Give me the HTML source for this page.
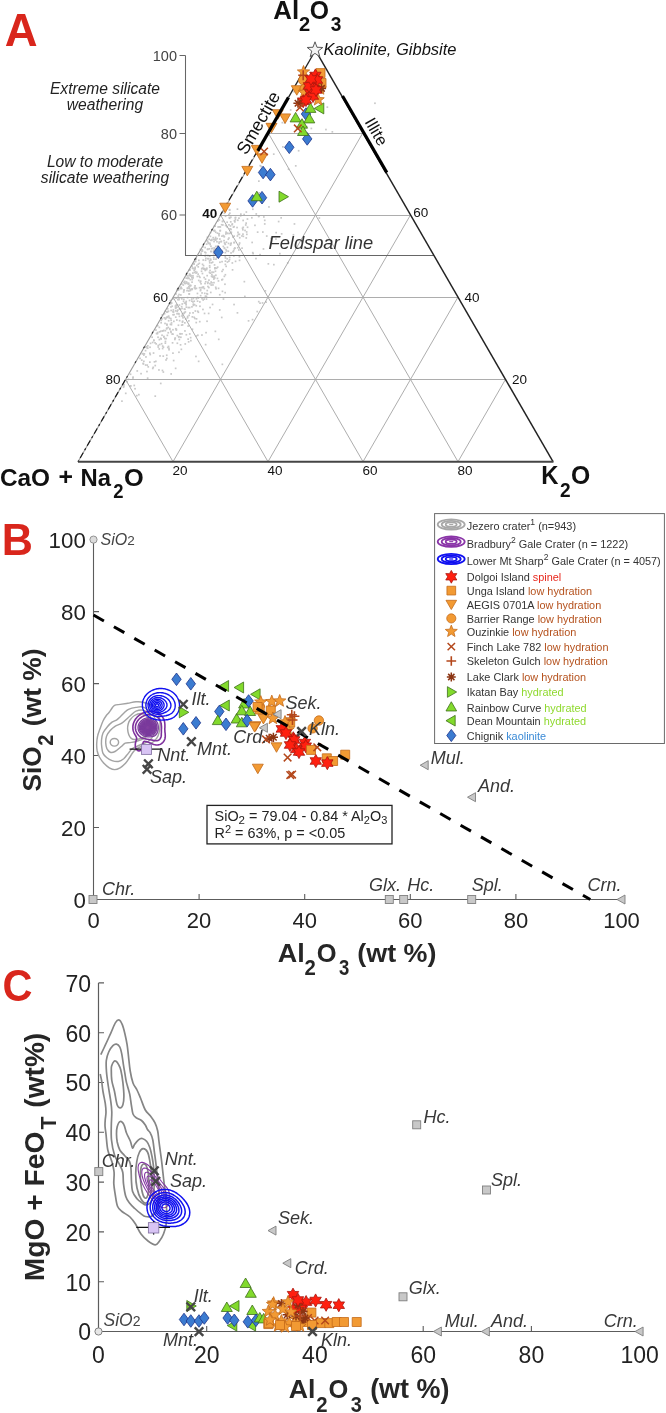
<!DOCTYPE html>
<html><head><meta charset="utf-8"><style>
html,body{margin:0;padding:0;background:#fff;}
svg{display:block;will-change:transform;}
text{font-family:"Liberation Sans", sans-serif;}
</style></head><body>
<svg width="666" height="1413" viewBox="0 0 666 1413">
<rect width="666" height="1413" fill="#fff"/>
<text x="4.76" y="45.80" font-size="45.5" fill="#d9261c" font-weight="bold" font-style="normal" >A</text>
<text x="273.26" y="18.60" font-size="25.5" fill="#111" font-weight="bold" font-style="normal" textLength="25.86" lengthAdjust="spacingAndGlyphs" >Al</text>
<text x="298.90" y="30.60" font-size="20" fill="#111" font-weight="bold" font-style="normal" textLength="11.18" lengthAdjust="spacingAndGlyphs" >2</text>
<text x="309.78" y="18.60" font-size="25.5" fill="#111" font-weight="bold" font-style="normal" textLength="19.25" lengthAdjust="spacingAndGlyphs" >O</text>
<text x="330.65" y="30.80" font-size="20" fill="#111" font-weight="bold" font-style="normal" textLength="10.62" lengthAdjust="spacingAndGlyphs" >3</text>
<g fill="#c9c9c9"><rect x="244.0" y="295.6" width="1.7" height="1.7"/><rect x="158.5" y="326.5" width="1.7" height="1.7"/><rect x="187.8" y="282.4" width="1.7" height="1.7"/><rect x="122.7" y="386.4" width="1.7" height="1.7"/><rect x="202.9" y="268.1" width="1.7" height="1.7"/><rect x="184.4" y="343.1" width="1.7" height="1.7"/><rect x="195.1" y="355.6" width="1.7" height="1.7"/><rect x="201.1" y="250.4" width="1.7" height="1.7"/><rect x="170.7" y="302.3" width="1.7" height="1.7"/><rect x="161.8" y="347.7" width="1.7" height="1.7"/><rect x="168.9" y="327.7" width="1.7" height="1.7"/><rect x="221.7" y="278.5" width="1.7" height="1.7"/><rect x="176.9" y="309.3" width="1.7" height="1.7"/><rect x="194.6" y="260.5" width="1.7" height="1.7"/><rect x="176.5" y="334.7" width="1.7" height="1.7"/><rect x="126.3" y="380.9" width="1.7" height="1.7"/><rect x="208.0" y="286.7" width="1.7" height="1.7"/><rect x="217.3" y="226.1" width="1.7" height="1.7"/><rect x="188.7" y="274.6" width="1.7" height="1.7"/><rect x="203.3" y="276.7" width="1.7" height="1.7"/><rect x="222.5" y="245.6" width="1.7" height="1.7"/><rect x="213.8" y="277.1" width="1.7" height="1.7"/><rect x="234.0" y="247.3" width="1.7" height="1.7"/><rect x="203.7" y="312.6" width="1.7" height="1.7"/><rect x="163.0" y="335.6" width="1.7" height="1.7"/><rect x="194.1" y="317.6" width="1.7" height="1.7"/><rect x="213.1" y="281.8" width="1.7" height="1.7"/><rect x="189.5" y="288.7" width="1.7" height="1.7"/><rect x="226.2" y="226.0" width="1.7" height="1.7"/><rect x="204.4" y="269.6" width="1.7" height="1.7"/><rect x="217.2" y="245.1" width="1.7" height="1.7"/><rect x="245.3" y="222.3" width="1.7" height="1.7"/><rect x="186.8" y="287.6" width="1.7" height="1.7"/><rect x="193.2" y="262.7" width="1.7" height="1.7"/><rect x="183.2" y="312.5" width="1.7" height="1.7"/><rect x="261.7" y="302.1" width="1.7" height="1.7"/><rect x="130.0" y="385.1" width="1.7" height="1.7"/><rect x="186.8" y="315.6" width="1.7" height="1.7"/><rect x="183.2" y="289.0" width="1.7" height="1.7"/><rect x="221.5" y="363.5" width="1.7" height="1.7"/><rect x="211.0" y="229.0" width="1.7" height="1.7"/><rect x="163.7" y="312.9" width="1.7" height="1.7"/><rect x="199.8" y="280.3" width="1.7" height="1.7"/><rect x="154.4" y="395.3" width="1.7" height="1.7"/><rect x="177.7" y="289.2" width="1.7" height="1.7"/><rect x="189.8" y="336.8" width="1.7" height="1.7"/><rect x="145.1" y="356.1" width="1.7" height="1.7"/><rect x="163.0" y="336.2" width="1.7" height="1.7"/><rect x="218.8" y="226.0" width="1.7" height="1.7"/><rect x="259.2" y="253.8" width="1.7" height="1.7"/><rect x="169.6" y="323.5" width="1.7" height="1.7"/><rect x="151.3" y="336.4" width="1.7" height="1.7"/><rect x="204.3" y="255.0" width="1.7" height="1.7"/><rect x="222.6" y="298.2" width="1.7" height="1.7"/><rect x="211.0" y="238.7" width="1.7" height="1.7"/><rect x="225.0" y="233.1" width="1.7" height="1.7"/><rect x="178.6" y="308.1" width="1.7" height="1.7"/><rect x="165.8" y="328.0" width="1.7" height="1.7"/><rect x="178.5" y="338.7" width="1.7" height="1.7"/><rect x="244.2" y="229.6" width="1.7" height="1.7"/><rect x="251.9" y="251.8" width="1.7" height="1.7"/><rect x="246.6" y="218.2" width="1.7" height="1.7"/><rect x="178.7" y="297.1" width="1.7" height="1.7"/><rect x="167.8" y="319.9" width="1.7" height="1.7"/><rect x="169.6" y="299.8" width="1.7" height="1.7"/><rect x="180.2" y="287.0" width="1.7" height="1.7"/><rect x="188.8" y="284.7" width="1.7" height="1.7"/><rect x="234.6" y="218.9" width="1.7" height="1.7"/><rect x="176.5" y="342.4" width="1.7" height="1.7"/><rect x="213.8" y="238.6" width="1.7" height="1.7"/><rect x="140.9" y="359.3" width="1.7" height="1.7"/><rect x="198.0" y="259.5" width="1.7" height="1.7"/><rect x="207.1" y="254.7" width="1.7" height="1.7"/><rect x="218.4" y="241.2" width="1.7" height="1.7"/><rect x="224.5" y="251.8" width="1.7" height="1.7"/><rect x="221.7" y="220.6" width="1.7" height="1.7"/><rect x="170.6" y="323.8" width="1.7" height="1.7"/><rect x="245.4" y="237.1" width="1.7" height="1.7"/><rect x="185.5" y="333.9" width="1.7" height="1.7"/><rect x="231.3" y="223.8" width="1.7" height="1.7"/><rect x="183.5" y="308.2" width="1.7" height="1.7"/><rect x="208.1" y="279.3" width="1.7" height="1.7"/><rect x="204.3" y="246.7" width="1.7" height="1.7"/><rect x="180.9" y="287.7" width="1.7" height="1.7"/><rect x="223.7" y="247.6" width="1.7" height="1.7"/><rect x="178.1" y="313.1" width="1.7" height="1.7"/><rect x="192.6" y="297.7" width="1.7" height="1.7"/><rect x="184.0" y="280.6" width="1.7" height="1.7"/><rect x="224.2" y="209.2" width="1.7" height="1.7"/><rect x="144.5" y="346.3" width="1.7" height="1.7"/><rect x="180.2" y="286.3" width="1.7" height="1.7"/><rect x="218.4" y="232.8" width="1.7" height="1.7"/><rect x="208.6" y="271.5" width="1.7" height="1.7"/><rect x="155.3" y="343.0" width="1.7" height="1.7"/><rect x="166.5" y="334.5" width="1.7" height="1.7"/><rect x="206.4" y="289.7" width="1.7" height="1.7"/><rect x="174.3" y="337.5" width="1.7" height="1.7"/><rect x="175.5" y="329.2" width="1.7" height="1.7"/><rect x="195.2" y="258.1" width="1.7" height="1.7"/><rect x="205.2" y="331.8" width="1.7" height="1.7"/><rect x="218.2" y="242.4" width="1.7" height="1.7"/><rect x="121.1" y="400.3" width="1.7" height="1.7"/><rect x="197.8" y="360.5" width="1.7" height="1.7"/><rect x="318.5" y="217.2" width="1.7" height="1.7"/><rect x="214.4" y="267.0" width="1.7" height="1.7"/><rect x="214.6" y="239.1" width="1.7" height="1.7"/><rect x="213.7" y="229.5" width="1.7" height="1.7"/><rect x="181.4" y="303.1" width="1.7" height="1.7"/><rect x="195.7" y="318.0" width="1.7" height="1.7"/><rect x="233.4" y="248.1" width="1.7" height="1.7"/><rect x="233.2" y="225.8" width="1.7" height="1.7"/><rect x="263.0" y="216.1" width="1.7" height="1.7"/><rect x="227.0" y="232.6" width="1.7" height="1.7"/><rect x="183.7" y="311.7" width="1.7" height="1.7"/><rect x="144.7" y="349.8" width="1.7" height="1.7"/><rect x="241.1" y="235.1" width="1.7" height="1.7"/><rect x="158.5" y="338.8" width="1.7" height="1.7"/><rect x="160.4" y="319.5" width="1.7" height="1.7"/><rect x="233.2" y="303.7" width="1.7" height="1.7"/><rect x="193.3" y="269.5" width="1.7" height="1.7"/><rect x="214.9" y="231.4" width="1.7" height="1.7"/><rect x="191.4" y="278.7" width="1.7" height="1.7"/><rect x="204.8" y="343.8" width="1.7" height="1.7"/><rect x="189.8" y="274.7" width="1.7" height="1.7"/><rect x="233.2" y="241.8" width="1.7" height="1.7"/><rect x="212.8" y="252.9" width="1.7" height="1.7"/><rect x="240.0" y="213.3" width="1.7" height="1.7"/><rect x="209.2" y="269.6" width="1.7" height="1.7"/><rect x="157.4" y="346.2" width="1.7" height="1.7"/><rect x="217.9" y="338.5" width="1.7" height="1.7"/><rect x="232.8" y="249.9" width="1.7" height="1.7"/><rect x="160.8" y="342.9" width="1.7" height="1.7"/><rect x="188.5" y="293.1" width="1.7" height="1.7"/><rect x="201.4" y="267.4" width="1.7" height="1.7"/><rect x="194.3" y="266.5" width="1.7" height="1.7"/><rect x="196.0" y="264.6" width="1.7" height="1.7"/><rect x="221.2" y="260.8" width="1.7" height="1.7"/><rect x="183.0" y="298.5" width="1.7" height="1.7"/><rect x="229.2" y="228.0" width="1.7" height="1.7"/><rect x="143.0" y="354.2" width="1.7" height="1.7"/><rect x="197.4" y="266.0" width="1.7" height="1.7"/><rect x="227.4" y="238.4" width="1.7" height="1.7"/><rect x="227.5" y="250.4" width="1.7" height="1.7"/><rect x="192.6" y="303.3" width="1.7" height="1.7"/><rect x="149.0" y="352.4" width="1.7" height="1.7"/><rect x="179.7" y="344.0" width="1.7" height="1.7"/><rect x="191.1" y="288.7" width="1.7" height="1.7"/><rect x="222.0" y="224.1" width="1.7" height="1.7"/><rect x="247.7" y="320.0" width="1.7" height="1.7"/><rect x="181.6" y="321.4" width="1.7" height="1.7"/><rect x="164.6" y="340.6" width="1.7" height="1.7"/><rect x="159.9" y="382.6" width="1.7" height="1.7"/><rect x="214.6" y="270.4" width="1.7" height="1.7"/><rect x="214.5" y="253.6" width="1.7" height="1.7"/><rect x="230.1" y="228.6" width="1.7" height="1.7"/><rect x="259.2" y="302.3" width="1.7" height="1.7"/><rect x="201.2" y="292.1" width="1.7" height="1.7"/><rect x="187.2" y="277.2" width="1.7" height="1.7"/><rect x="229.9" y="243.0" width="1.7" height="1.7"/><rect x="199.0" y="301.1" width="1.7" height="1.7"/><rect x="210.7" y="247.8" width="1.7" height="1.7"/><rect x="208.7" y="260.1" width="1.7" height="1.7"/><rect x="238.1" y="217.3" width="1.7" height="1.7"/><rect x="218.9" y="309.1" width="1.7" height="1.7"/><rect x="216.3" y="249.5" width="1.7" height="1.7"/><rect x="239.8" y="214.9" width="1.7" height="1.7"/><rect x="143.5" y="353.0" width="1.7" height="1.7"/><rect x="191.6" y="328.4" width="1.7" height="1.7"/><rect x="196.7" y="300.3" width="1.7" height="1.7"/><rect x="209.4" y="272.3" width="1.7" height="1.7"/><rect x="166.1" y="311.3" width="1.7" height="1.7"/><rect x="237.0" y="219.4" width="1.7" height="1.7"/><rect x="184.1" y="308.4" width="1.7" height="1.7"/><rect x="168.2" y="348.9" width="1.7" height="1.7"/><rect x="223.7" y="242.1" width="1.7" height="1.7"/><rect x="212.3" y="236.8" width="1.7" height="1.7"/><rect x="214.1" y="249.1" width="1.7" height="1.7"/><rect x="187.3" y="338.3" width="1.7" height="1.7"/><rect x="197.4" y="263.4" width="1.7" height="1.7"/><rect x="189.0" y="312.2" width="1.7" height="1.7"/><rect x="202.1" y="308.6" width="1.7" height="1.7"/><rect x="211.7" y="275.3" width="1.7" height="1.7"/><rect x="215.0" y="274.4" width="1.7" height="1.7"/><rect x="208.3" y="238.4" width="1.7" height="1.7"/><rect x="164.0" y="337.7" width="1.7" height="1.7"/><rect x="193.4" y="300.4" width="1.7" height="1.7"/><rect x="229.9" y="221.0" width="1.7" height="1.7"/><rect x="174.9" y="316.3" width="1.7" height="1.7"/><rect x="218.5" y="219.1" width="1.7" height="1.7"/><rect x="178.2" y="293.7" width="1.7" height="1.7"/><rect x="216.8" y="266.3" width="1.7" height="1.7"/><rect x="216.4" y="237.8" width="1.7" height="1.7"/><rect x="212.9" y="249.3" width="1.7" height="1.7"/><rect x="205.6" y="295.5" width="1.7" height="1.7"/><rect x="127.6" y="378.5" width="1.7" height="1.7"/><rect x="164.2" y="322.6" width="1.7" height="1.7"/><rect x="181.1" y="283.2" width="1.7" height="1.7"/><rect x="213.5" y="277.2" width="1.7" height="1.7"/><rect x="195.4" y="321.7" width="1.7" height="1.7"/><rect x="182.8" y="291.2" width="1.7" height="1.7"/><rect x="264.5" y="290.0" width="1.7" height="1.7"/><rect x="210.4" y="284.2" width="1.7" height="1.7"/><rect x="238.8" y="242.2" width="1.7" height="1.7"/><rect x="238.6" y="233.5" width="1.7" height="1.7"/><rect x="201.6" y="286.5" width="1.7" height="1.7"/><rect x="176.0" y="289.5" width="1.7" height="1.7"/><rect x="204.6" y="278.3" width="1.7" height="1.7"/><rect x="206.6" y="236.5" width="1.7" height="1.7"/><rect x="220.1" y="240.8" width="1.7" height="1.7"/><rect x="155.1" y="329.2" width="1.7" height="1.7"/><rect x="233.5" y="241.6" width="1.7" height="1.7"/><rect x="159.9" y="330.4" width="1.7" height="1.7"/><rect x="162.4" y="355.3" width="1.7" height="1.7"/><rect x="185.4" y="300.6" width="1.7" height="1.7"/><rect x="211.7" y="303.6" width="1.7" height="1.7"/><rect x="152.4" y="366.5" width="1.7" height="1.7"/><rect x="166.3" y="311.0" width="1.7" height="1.7"/><rect x="225.2" y="248.9" width="1.7" height="1.7"/><rect x="245.5" y="211.2" width="1.7" height="1.7"/><rect x="180.5" y="348.5" width="1.7" height="1.7"/><rect x="174.8" y="367.5" width="1.7" height="1.7"/><rect x="174.8" y="296.9" width="1.7" height="1.7"/><rect x="184.0" y="322.0" width="1.7" height="1.7"/><rect x="213.0" y="258.3" width="1.7" height="1.7"/><rect x="208.9" y="261.9" width="1.7" height="1.7"/><rect x="202.7" y="264.8" width="1.7" height="1.7"/><rect x="223.6" y="212.4" width="1.7" height="1.7"/><rect x="212.9" y="250.7" width="1.7" height="1.7"/><rect x="186.2" y="289.8" width="1.7" height="1.7"/><rect x="214.3" y="225.3" width="1.7" height="1.7"/><rect x="221.1" y="235.3" width="1.7" height="1.7"/><rect x="223.0" y="210.4" width="1.7" height="1.7"/><rect x="207.1" y="281.4" width="1.7" height="1.7"/><rect x="159.8" y="337.5" width="1.7" height="1.7"/><rect x="166.0" y="357.6" width="1.7" height="1.7"/><rect x="225.6" y="241.3" width="1.7" height="1.7"/><rect x="191.2" y="281.3" width="1.7" height="1.7"/><rect x="213.2" y="240.7" width="1.7" height="1.7"/><rect x="167.9" y="315.4" width="1.7" height="1.7"/><rect x="202.3" y="299.1" width="1.7" height="1.7"/><rect x="179.6" y="308.2" width="1.7" height="1.7"/><rect x="174.6" y="305.2" width="1.7" height="1.7"/><rect x="146.6" y="347.4" width="1.7" height="1.7"/><rect x="219.5" y="226.1" width="1.7" height="1.7"/><rect x="167.6" y="310.4" width="1.7" height="1.7"/><rect x="143.0" y="360.5" width="1.7" height="1.7"/><rect x="196.0" y="271.5" width="1.7" height="1.7"/><rect x="215.1" y="258.3" width="1.7" height="1.7"/><rect x="225.3" y="265.5" width="1.7" height="1.7"/><rect x="236.9" y="246.9" width="1.7" height="1.7"/><rect x="214.5" y="330.5" width="1.7" height="1.7"/><rect x="206.0" y="267.4" width="1.7" height="1.7"/><rect x="151.9" y="367.6" width="1.7" height="1.7"/><rect x="153.6" y="361.0" width="1.7" height="1.7"/><rect x="230.3" y="232.2" width="1.7" height="1.7"/><rect x="186.6" y="287.3" width="1.7" height="1.7"/><rect x="213.5" y="275.3" width="1.7" height="1.7"/><rect x="206.7" y="240.5" width="1.7" height="1.7"/><rect x="214.9" y="239.0" width="1.7" height="1.7"/><rect x="214.9" y="245.6" width="1.7" height="1.7"/><rect x="183.7" y="302.2" width="1.7" height="1.7"/><rect x="138.0" y="393.8" width="1.7" height="1.7"/><rect x="222.4" y="234.7" width="1.7" height="1.7"/><rect x="171.7" y="342.0" width="1.7" height="1.7"/><rect x="257.9" y="300.8" width="1.7" height="1.7"/><rect x="180.0" y="294.1" width="1.7" height="1.7"/><rect x="209.6" y="231.7" width="1.7" height="1.7"/><rect x="217.6" y="280.1" width="1.7" height="1.7"/><rect x="207.8" y="242.6" width="1.7" height="1.7"/><rect x="181.8" y="320.4" width="1.7" height="1.7"/><rect x="165.2" y="337.8" width="1.7" height="1.7"/><rect x="217.7" y="287.5" width="1.7" height="1.7"/><rect x="197.9" y="279.6" width="1.7" height="1.7"/><rect x="209.2" y="306.7" width="1.7" height="1.7"/><rect x="246.7" y="226.4" width="1.7" height="1.7"/><rect x="193.7" y="286.9" width="1.7" height="1.7"/><rect x="202.6" y="286.1" width="1.7" height="1.7"/><rect x="187.3" y="282.8" width="1.7" height="1.7"/><rect x="224.5" y="263.6" width="1.7" height="1.7"/><rect x="228.5" y="216.7" width="1.7" height="1.7"/><rect x="234.7" y="216.6" width="1.7" height="1.7"/><rect x="254.1" y="224.5" width="1.7" height="1.7"/><rect x="209.3" y="243.7" width="1.7" height="1.7"/><rect x="203.5" y="268.3" width="1.7" height="1.7"/><rect x="167.7" y="345.6" width="1.7" height="1.7"/><rect x="194.2" y="267.9" width="1.7" height="1.7"/><rect x="183.2" y="281.5" width="1.7" height="1.7"/><rect x="190.0" y="339.8" width="1.7" height="1.7"/><rect x="174.4" y="337.4" width="1.7" height="1.7"/><rect x="178.2" y="298.8" width="1.7" height="1.7"/><rect x="198.7" y="286.9" width="1.7" height="1.7"/><rect x="242.4" y="226.5" width="1.7" height="1.7"/><rect x="200.2" y="286.9" width="1.7" height="1.7"/><rect x="217.0" y="220.2" width="1.7" height="1.7"/><rect x="188.2" y="277.5" width="1.7" height="1.7"/><rect x="226.6" y="246.5" width="1.7" height="1.7"/><rect x="184.1" y="282.6" width="1.7" height="1.7"/><rect x="210.7" y="275.4" width="1.7" height="1.7"/><rect x="225.2" y="231.3" width="1.7" height="1.7"/><rect x="209.1" y="282.8" width="1.7" height="1.7"/><rect x="256.4" y="310.7" width="1.7" height="1.7"/><rect x="173.0" y="320.5" width="1.7" height="1.7"/><rect x="123.0" y="385.2" width="1.7" height="1.7"/><rect x="234.0" y="221.0" width="1.7" height="1.7"/><rect x="234.5" y="217.1" width="1.7" height="1.7"/><rect x="243.3" y="213.7" width="1.7" height="1.7"/><rect x="216.6" y="232.3" width="1.7" height="1.7"/><rect x="218.5" y="253.3" width="1.7" height="1.7"/><rect x="226.3" y="257.9" width="1.7" height="1.7"/><rect x="170.3" y="373.1" width="1.7" height="1.7"/><rect x="223.5" y="235.7" width="1.7" height="1.7"/><rect x="209.0" y="242.4" width="1.7" height="1.7"/><rect x="205.6" y="298.2" width="1.7" height="1.7"/><rect x="166.9" y="346.6" width="1.7" height="1.7"/><rect x="149.0" y="361.3" width="1.7" height="1.7"/><rect x="194.4" y="287.9" width="1.7" height="1.7"/><rect x="201.4" y="249.0" width="1.7" height="1.7"/><rect x="190.6" y="275.0" width="1.7" height="1.7"/><rect x="206.7" y="248.5" width="1.7" height="1.7"/><rect x="262.0" y="231.2" width="1.7" height="1.7"/><rect x="233.3" y="235.3" width="1.7" height="1.7"/><rect x="161.1" y="318.1" width="1.7" height="1.7"/><rect x="174.0" y="338.6" width="1.7" height="1.7"/><rect x="203.9" y="292.5" width="1.7" height="1.7"/><rect x="191.6" y="267.2" width="1.7" height="1.7"/><rect x="181.6" y="313.1" width="1.7" height="1.7"/><rect x="199.8" y="294.8" width="1.7" height="1.7"/><rect x="233.9" y="247.3" width="1.7" height="1.7"/><rect x="198.9" y="320.8" width="1.7" height="1.7"/><rect x="192.2" y="277.1" width="1.7" height="1.7"/><rect x="265.9" y="235.2" width="1.7" height="1.7"/><rect x="175.5" y="328.5" width="1.7" height="1.7"/><rect x="191.0" y="300.3" width="1.7" height="1.7"/><rect x="158.7" y="331.0" width="1.7" height="1.7"/><rect x="209.7" y="258.3" width="1.7" height="1.7"/><rect x="198.5" y="262.5" width="1.7" height="1.7"/><rect x="179.3" y="333.0" width="1.7" height="1.7"/><rect x="213.0" y="276.3" width="1.7" height="1.7"/><rect x="292.6" y="233.9" width="1.7" height="1.7"/><rect x="152.7" y="352.2" width="1.7" height="1.7"/><rect x="191.5" y="316.0" width="1.7" height="1.7"/><rect x="228.7" y="208.8" width="1.7" height="1.7"/><rect x="202.2" y="286.8" width="1.7" height="1.7"/><rect x="161.5" y="314.1" width="1.7" height="1.7"/><rect x="174.9" y="327.9" width="1.7" height="1.7"/><rect x="197.3" y="273.3" width="1.7" height="1.7"/><rect x="185.5" y="306.3" width="1.7" height="1.7"/><rect x="171.3" y="305.4" width="1.7" height="1.7"/><rect x="215.8" y="267.4" width="1.7" height="1.7"/><rect x="156.8" y="324.9" width="1.7" height="1.7"/><rect x="165.9" y="354.4" width="1.7" height="1.7"/><rect x="169.8" y="302.9" width="1.7" height="1.7"/><rect x="222.2" y="268.8" width="1.7" height="1.7"/><rect x="233.0" y="255.0" width="1.7" height="1.7"/><rect x="200.2" y="252.4" width="1.7" height="1.7"/><rect x="208.8" y="264.9" width="1.7" height="1.7"/><rect x="166.0" y="324.0" width="1.7" height="1.7"/><rect x="158.4" y="348.1" width="1.7" height="1.7"/><rect x="168.1" y="347.5" width="1.7" height="1.7"/><rect x="184.9" y="318.2" width="1.7" height="1.7"/><rect x="132.1" y="377.2" width="1.7" height="1.7"/><rect x="172.0" y="298.1" width="1.7" height="1.7"/><rect x="220.5" y="240.6" width="1.7" height="1.7"/><rect x="206.6" y="293.2" width="1.7" height="1.7"/><rect x="242.0" y="228.9" width="1.7" height="1.7"/><rect x="170.1" y="306.1" width="1.7" height="1.7"/><rect x="166.5" y="316.4" width="1.7" height="1.7"/><rect x="174.9" y="307.5" width="1.7" height="1.7"/><rect x="162.5" y="371.2" width="1.7" height="1.7"/><rect x="194.5" y="310.2" width="1.7" height="1.7"/><rect x="195.6" y="287.5" width="1.7" height="1.7"/><rect x="207.2" y="241.6" width="1.7" height="1.7"/><rect x="188.9" y="333.1" width="1.7" height="1.7"/><rect x="196.6" y="292.6" width="1.7" height="1.7"/><rect x="221.1" y="249.8" width="1.7" height="1.7"/><rect x="219.0" y="238.2" width="1.7" height="1.7"/><rect x="210.1" y="245.4" width="1.7" height="1.7"/><rect x="188.7" y="273.2" width="1.7" height="1.7"/><rect x="177.0" y="298.8" width="1.7" height="1.7"/><rect x="214.9" y="237.9" width="1.7" height="1.7"/><rect x="133.4" y="384.6" width="1.7" height="1.7"/><rect x="146.1" y="370.7" width="1.7" height="1.7"/><rect x="214.7" y="236.6" width="1.7" height="1.7"/><rect x="193.2" y="267.7" width="1.7" height="1.7"/><rect x="238.0" y="249.1" width="1.7" height="1.7"/><rect x="205.0" y="257.5" width="1.7" height="1.7"/><rect x="286.9" y="262.1" width="1.7" height="1.7"/><rect x="155.0" y="360.5" width="1.7" height="1.7"/><rect x="210.3" y="281.2" width="1.7" height="1.7"/><rect x="225.8" y="250.1" width="1.7" height="1.7"/><rect x="204.7" y="259.4" width="1.7" height="1.7"/><rect x="195.1" y="257.8" width="1.7" height="1.7"/><rect x="193.3" y="316.5" width="1.7" height="1.7"/><rect x="246.0" y="233.5" width="1.7" height="1.7"/><rect x="172.8" y="359.7" width="1.7" height="1.7"/><rect x="189.5" y="289.7" width="1.7" height="1.7"/><rect x="192.1" y="301.1" width="1.7" height="1.7"/><rect x="194.2" y="285.0" width="1.7" height="1.7"/><rect x="218.4" y="252.6" width="1.7" height="1.7"/><rect x="161.6" y="330.0" width="1.7" height="1.7"/><rect x="178.6" y="304.2" width="1.7" height="1.7"/><rect x="149.4" y="353.7" width="1.7" height="1.7"/><rect x="236.6" y="235.1" width="1.7" height="1.7"/><rect x="194.0" y="268.0" width="1.7" height="1.7"/><rect x="251.3" y="241.6" width="1.7" height="1.7"/><rect x="237.5" y="233.4" width="1.7" height="1.7"/><rect x="166.2" y="323.9" width="1.7" height="1.7"/><rect x="207.8" y="312.6" width="1.7" height="1.7"/><rect x="134.2" y="387.9" width="1.7" height="1.7"/><rect x="208.4" y="248.0" width="1.7" height="1.7"/><rect x="236.2" y="226.7" width="1.7" height="1.7"/><rect x="219.1" y="261.4" width="1.7" height="1.7"/><rect x="157.4" y="344.6" width="1.7" height="1.7"/><rect x="232.6" y="226.3" width="1.7" height="1.7"/><rect x="228.8" y="209.3" width="1.7" height="1.7"/><rect x="229.7" y="244.2" width="1.7" height="1.7"/><rect x="172.1" y="352.3" width="1.7" height="1.7"/><rect x="142.2" y="352.8" width="1.7" height="1.7"/><rect x="218.0" y="233.2" width="1.7" height="1.7"/><rect x="176.0" y="319.2" width="1.7" height="1.7"/><rect x="189.2" y="273.8" width="1.7" height="1.7"/><rect x="224.8" y="224.7" width="1.7" height="1.7"/><rect x="158.9" y="343.7" width="1.7" height="1.7"/><rect x="189.1" y="269.1" width="1.7" height="1.7"/><rect x="229.6" y="225.1" width="1.7" height="1.7"/><rect x="186.7" y="317.0" width="1.7" height="1.7"/><rect x="263.9" y="219.5" width="1.7" height="1.7"/><rect x="204.7" y="254.5" width="1.7" height="1.7"/><rect x="232.2" y="250.9" width="1.7" height="1.7"/><rect x="220.8" y="223.9" width="1.7" height="1.7"/><rect x="151.8" y="341.6" width="1.7" height="1.7"/><rect x="209.9" y="239.4" width="1.7" height="1.7"/><rect x="204.9" y="251.9" width="1.7" height="1.7"/><rect x="160.3" y="321.9" width="1.7" height="1.7"/><rect x="208.9" y="266.5" width="1.7" height="1.7"/><rect x="189.7" y="274.6" width="1.7" height="1.7"/><rect x="165.2" y="359.1" width="1.7" height="1.7"/><rect x="216.6" y="277.6" width="1.7" height="1.7"/><rect x="243.5" y="280.8" width="1.7" height="1.7"/><rect x="199.6" y="289.8" width="1.7" height="1.7"/><rect x="163.5" y="317.0" width="1.7" height="1.7"/><rect x="154.4" y="364.7" width="1.7" height="1.7"/><rect x="222.4" y="209.7" width="1.7" height="1.7"/><rect x="206.2" y="320.4" width="1.7" height="1.7"/><rect x="170.5" y="301.9" width="1.7" height="1.7"/><rect x="225.9" y="232.2" width="1.7" height="1.7"/><rect x="231.5" y="223.1" width="1.7" height="1.7"/><rect x="170.0" y="330.5" width="1.7" height="1.7"/><rect x="176.1" y="304.1" width="1.7" height="1.7"/><rect x="159.2" y="355.1" width="1.7" height="1.7"/><rect x="187.9" y="285.9" width="1.7" height="1.7"/><rect x="226.3" y="221.4" width="1.7" height="1.7"/><rect x="209.9" y="291.6" width="1.7" height="1.7"/><rect x="174.9" y="310.0" width="1.7" height="1.7"/><rect x="237.1" y="231.5" width="1.7" height="1.7"/><rect x="230.3" y="242.3" width="1.7" height="1.7"/><rect x="220.9" y="316.6" width="1.7" height="1.7"/><rect x="197.5" y="311.4" width="1.7" height="1.7"/><rect x="213.8" y="230.1" width="1.7" height="1.7"/><rect x="181.3" y="314.9" width="1.7" height="1.7"/><rect x="178.1" y="351.4" width="1.7" height="1.7"/><rect x="230.0" y="216.4" width="1.7" height="1.7"/><rect x="206.1" y="239.6" width="1.7" height="1.7"/><rect x="211.6" y="276.2" width="1.7" height="1.7"/><rect x="230.2" y="252.1" width="1.7" height="1.7"/><rect x="217.2" y="250.6" width="1.7" height="1.7"/><rect x="195.2" y="272.2" width="1.7" height="1.7"/><rect x="214.2" y="248.2" width="1.7" height="1.7"/><rect x="221.4" y="250.9" width="1.7" height="1.7"/><rect x="238.6" y="255.9" width="1.7" height="1.7"/><rect x="191.1" y="306.0" width="1.7" height="1.7"/><rect x="156.8" y="331.7" width="1.7" height="1.7"/><rect x="210.8" y="239.5" width="1.7" height="1.7"/><rect x="238.4" y="243.7" width="1.7" height="1.7"/><rect x="157.2" y="336.4" width="1.7" height="1.7"/><rect x="170.0" y="317.7" width="1.7" height="1.7"/><rect x="194.6" y="260.6" width="1.7" height="1.7"/><rect x="192.5" y="304.5" width="1.7" height="1.7"/><rect x="245.8" y="231.1" width="1.7" height="1.7"/><rect x="200.7" y="270.4" width="1.7" height="1.7"/><rect x="218.9" y="293.9" width="1.7" height="1.7"/><rect x="199.8" y="254.2" width="1.7" height="1.7"/><rect x="212.9" y="229.8" width="1.7" height="1.7"/><rect x="136.0" y="394.8" width="1.7" height="1.7"/><rect x="144.8" y="364.2" width="1.7" height="1.7"/><rect x="206.9" y="248.4" width="1.7" height="1.7"/><rect x="164.5" y="342.3" width="1.7" height="1.7"/><rect x="164.4" y="310.4" width="1.7" height="1.7"/><rect x="170.7" y="322.1" width="1.7" height="1.7"/><rect x="224.6" y="257.1" width="1.7" height="1.7"/><rect x="257.8" y="215.7" width="1.7" height="1.7"/><rect x="182.1" y="316.9" width="1.7" height="1.7"/><rect x="197.0" y="334.4" width="1.7" height="1.7"/><rect x="175.1" y="293.1" width="1.7" height="1.7"/><rect x="210.7" y="262.0" width="1.7" height="1.7"/><rect x="224.5" y="273.9" width="1.7" height="1.7"/><rect x="129.7" y="373.4" width="1.7" height="1.7"/><rect x="154.2" y="342.0" width="1.7" height="1.7"/><rect x="160.3" y="338.1" width="1.7" height="1.7"/><rect x="179.4" y="332.9" width="1.7" height="1.7"/><rect x="209.9" y="259.2" width="1.7" height="1.7"/><rect x="223.5" y="275.5" width="1.7" height="1.7"/><rect x="228.6" y="232.6" width="1.7" height="1.7"/><rect x="199.8" y="288.9" width="1.7" height="1.7"/><rect x="185.0" y="302.6" width="1.7" height="1.7"/><rect x="209.6" y="235.5" width="1.7" height="1.7"/><rect x="145.6" y="346.0" width="1.7" height="1.7"/><rect x="303.6" y="247.7" width="1.7" height="1.7"/><rect x="236.6" y="208.3" width="1.7" height="1.7"/><rect x="153.0" y="339.8" width="1.7" height="1.7"/><rect x="228.8" y="256.5" width="1.7" height="1.7"/><rect x="228.8" y="217.4" width="1.7" height="1.7"/><rect x="170.3" y="309.6" width="1.7" height="1.7"/><rect x="241.2" y="247.3" width="1.7" height="1.7"/><rect x="140.2" y="372.8" width="1.7" height="1.7"/><rect x="146.7" y="347.3" width="1.7" height="1.7"/><rect x="193.2" y="263.3" width="1.7" height="1.7"/><rect x="171.3" y="333.2" width="1.7" height="1.7"/><rect x="187.3" y="325.2" width="1.7" height="1.7"/><rect x="149.2" y="346.4" width="1.7" height="1.7"/><rect x="244.9" y="224.1" width="1.7" height="1.7"/><rect x="191.0" y="276.9" width="1.7" height="1.7"/><rect x="199.5" y="281.2" width="1.7" height="1.7"/><rect x="202.4" y="259.2" width="1.7" height="1.7"/><rect x="165.9" y="327.3" width="1.7" height="1.7"/><rect x="176.0" y="306.3" width="1.7" height="1.7"/><rect x="188.7" y="269.0" width="1.7" height="1.7"/><rect x="203.8" y="267.8" width="1.7" height="1.7"/><rect x="251.7" y="318.8" width="1.7" height="1.7"/><rect x="228.1" y="224.0" width="1.7" height="1.7"/><rect x="161.8" y="345.2" width="1.7" height="1.7"/><rect x="224.0" y="242.8" width="1.7" height="1.7"/><rect x="172.7" y="311.2" width="1.7" height="1.7"/><rect x="210.0" y="250.6" width="1.7" height="1.7"/><rect x="172.2" y="313.9" width="1.7" height="1.7"/><rect x="214.1" y="267.6" width="1.7" height="1.7"/><rect x="123.2" y="383.7" width="1.7" height="1.7"/><rect x="167.3" y="326.6" width="1.7" height="1.7"/><rect x="183.5" y="281.8" width="1.7" height="1.7"/><rect x="198.3" y="275.4" width="1.7" height="1.7"/><rect x="149.7" y="342.5" width="1.7" height="1.7"/><rect x="189.4" y="284.8" width="1.7" height="1.7"/><rect x="224.6" y="260.3" width="1.7" height="1.7"/><rect x="223.3" y="235.7" width="1.7" height="1.7"/><rect x="201.6" y="250.2" width="1.7" height="1.7"/><rect x="166.8" y="308.0" width="1.7" height="1.7"/><rect x="206.0" y="292.8" width="1.7" height="1.7"/><rect x="213.4" y="225.4" width="1.7" height="1.7"/><rect x="211.2" y="271.3" width="1.7" height="1.7"/><rect x="196.5" y="275.6" width="1.7" height="1.7"/><rect x="136.4" y="370.1" width="1.7" height="1.7"/><rect x="188.0" y="290.1" width="1.7" height="1.7"/><rect x="146.9" y="345.0" width="1.7" height="1.7"/><rect x="224.3" y="291.8" width="1.7" height="1.7"/><rect x="176.7" y="288.8" width="1.7" height="1.7"/><rect x="215.9" y="256.7" width="1.7" height="1.7"/><rect x="206.3" y="274.8" width="1.7" height="1.7"/><rect x="177.6" y="324.4" width="1.7" height="1.7"/><rect x="181.1" y="333.0" width="1.7" height="1.7"/><rect x="231.5" y="262.1" width="1.7" height="1.7"/><rect x="192.1" y="274.9" width="1.7" height="1.7"/><rect x="189.5" y="278.8" width="1.7" height="1.7"/><rect x="185.9" y="274.6" width="1.7" height="1.7"/><rect x="146.8" y="377.3" width="1.7" height="1.7"/><rect x="200.2" y="282.9" width="1.7" height="1.7"/><rect x="228.1" y="237.2" width="1.7" height="1.7"/><rect x="177.6" y="297.1" width="1.7" height="1.7"/><rect x="177.6" y="312.8" width="1.7" height="1.7"/><rect x="256.8" y="231.3" width="1.7" height="1.7"/><rect x="204.1" y="251.4" width="1.7" height="1.7"/><rect x="186.1" y="282.2" width="1.7" height="1.7"/><rect x="193.9" y="286.5" width="1.7" height="1.7"/><rect x="223.2" y="239.8" width="1.7" height="1.7"/><rect x="224.1" y="283.4" width="1.7" height="1.7"/><rect x="242.3" y="219.6" width="1.7" height="1.7"/><rect x="177.9" y="336.1" width="1.7" height="1.7"/><rect x="204.5" y="268.6" width="1.7" height="1.7"/><rect x="204.9" y="280.9" width="1.7" height="1.7"/><rect x="195.3" y="257.4" width="1.7" height="1.7"/><rect x="214.3" y="267.1" width="1.7" height="1.7"/><rect x="187.1" y="275.1" width="1.7" height="1.7"/><rect x="170.2" y="331.5" width="1.7" height="1.7"/><rect x="229.7" y="228.4" width="1.7" height="1.7"/><rect x="205.8" y="243.3" width="1.7" height="1.7"/><rect x="251.0" y="216.9" width="1.7" height="1.7"/><rect x="218.2" y="234.8" width="1.7" height="1.7"/><rect x="221.6" y="290.5" width="1.7" height="1.7"/><rect x="170.3" y="319.5" width="1.7" height="1.7"/><rect x="199.1" y="276.5" width="1.7" height="1.7"/><rect x="231.7" y="269.0" width="1.7" height="1.7"/><rect x="265.3" y="301.3" width="1.7" height="1.7"/><rect x="164.9" y="317.4" width="1.7" height="1.7"/><rect x="188.5" y="287.4" width="1.7" height="1.7"/><rect x="224.4" y="255.5" width="1.7" height="1.7"/><rect x="221.2" y="270.5" width="1.7" height="1.7"/><rect x="175.4" y="297.3" width="1.7" height="1.7"/><rect x="214.9" y="247.8" width="1.7" height="1.7"/><rect x="241.7" y="227.4" width="1.7" height="1.7"/><rect x="187.6" y="283.2" width="1.7" height="1.7"/><rect x="223.6" y="247.1" width="1.7" height="1.7"/><rect x="165.9" y="316.5" width="1.7" height="1.7"/><rect x="181.5" y="315.3" width="1.7" height="1.7"/><rect x="175.3" y="304.4" width="1.7" height="1.7"/><rect x="192.1" y="276.4" width="1.7" height="1.7"/><rect x="188.3" y="314.5" width="1.7" height="1.7"/><rect x="176.4" y="310.5" width="1.7" height="1.7"/><rect x="238.9" y="236.9" width="1.7" height="1.7"/><rect x="132.2" y="376.3" width="1.7" height="1.7"/><rect x="192.2" y="312.0" width="1.7" height="1.7"/><rect x="273.0" y="263.8" width="1.7" height="1.7"/><rect x="129.4" y="385.0" width="1.7" height="1.7"/><rect x="210.6" y="250.7" width="1.7" height="1.7"/><rect x="236.6" y="312.0" width="1.7" height="1.7"/><rect x="189.8" y="275.0" width="1.7" height="1.7"/><rect x="196.9" y="310.4" width="1.7" height="1.7"/><rect x="190.0" y="284.7" width="1.7" height="1.7"/><rect x="216.1" y="240.9" width="1.7" height="1.7"/><rect x="233.6" y="220.0" width="1.7" height="1.7"/><rect x="185.4" y="277.3" width="1.7" height="1.7"/><rect x="195.4" y="304.9" width="1.7" height="1.7"/><rect x="199.1" y="305.4" width="1.7" height="1.7"/><rect x="139.2" y="357.5" width="1.7" height="1.7"/><rect x="211.8" y="261.3" width="1.7" height="1.7"/><rect x="167.4" y="331.9" width="1.7" height="1.7"/><rect x="280.8" y="233.0" width="1.7" height="1.7"/><rect x="190.9" y="298.2" width="1.7" height="1.7"/><rect x="184.1" y="330.1" width="1.7" height="1.7"/><rect x="216.6" y="245.4" width="1.7" height="1.7"/><rect x="242.1" y="233.3" width="1.7" height="1.7"/><rect x="224.7" y="215.4" width="1.7" height="1.7"/><rect x="197.5" y="297.2" width="1.7" height="1.7"/><rect x="180.8" y="324.3" width="1.7" height="1.7"/><rect x="161.2" y="334.4" width="1.7" height="1.7"/><rect x="242.5" y="235.5" width="1.7" height="1.7"/><rect x="162.9" y="329.6" width="1.7" height="1.7"/><rect x="177.4" y="295.2" width="1.7" height="1.7"/><rect x="280.3" y="217.0" width="1.7" height="1.7"/><rect x="169.0" y="328.5" width="1.7" height="1.7"/><rect x="164.6" y="318.2" width="1.7" height="1.7"/><rect x="262.6" y="248.1" width="1.7" height="1.7"/><rect x="173.2" y="313.8" width="1.7" height="1.7"/><rect x="212.7" y="271.4" width="1.7" height="1.7"/><rect x="166.0" y="323.4" width="1.7" height="1.7"/><rect x="187.8" y="341.0" width="1.7" height="1.7"/><rect x="267.5" y="263.0" width="1.7" height="1.7"/><rect x="193.6" y="271.6" width="1.7" height="1.7"/><rect x="212.1" y="284.1" width="1.7" height="1.7"/><rect x="219.2" y="229.9" width="1.7" height="1.7"/><rect x="181.7" y="324.0" width="1.7" height="1.7"/><rect x="238.7" y="259.5" width="1.7" height="1.7"/><rect x="188.7" y="299.6" width="1.7" height="1.7"/><rect x="224.5" y="243.5" width="1.7" height="1.7"/><rect x="212.9" y="256.6" width="1.7" height="1.7"/><rect x="252.0" y="208.4" width="1.7" height="1.7"/><rect x="222.3" y="209.9" width="1.7" height="1.7"/><rect x="188.8" y="306.7" width="1.7" height="1.7"/><rect x="142.3" y="362.6" width="1.7" height="1.7"/><rect x="172.2" y="310.9" width="1.7" height="1.7"/><rect x="161.8" y="330.2" width="1.7" height="1.7"/><rect x="204.6" y="295.3" width="1.7" height="1.7"/><rect x="172.1" y="333.3" width="1.7" height="1.7"/><rect x="207.1" y="285.7" width="1.7" height="1.7"/><rect x="227.7" y="242.6" width="1.7" height="1.7"/><rect x="195.5" y="335.2" width="1.7" height="1.7"/><rect x="200.9" y="268.0" width="1.7" height="1.7"/><rect x="255.1" y="257.7" width="1.7" height="1.7"/><rect x="167.3" y="315.8" width="1.7" height="1.7"/><rect x="142.6" y="363.1" width="1.7" height="1.7"/><rect x="188.9" y="284.7" width="1.7" height="1.7"/><rect x="277.8" y="220.7" width="1.7" height="1.7"/><rect x="192.0" y="272.2" width="1.7" height="1.7"/><rect x="185.0" y="301.7" width="1.7" height="1.7"/><rect x="183.1" y="289.8" width="1.7" height="1.7"/><rect x="188.4" y="287.4" width="1.7" height="1.7"/><rect x="204.2" y="282.7" width="1.7" height="1.7"/><rect x="211.0" y="273.6" width="1.7" height="1.7"/><rect x="232.1" y="236.2" width="1.7" height="1.7"/><rect x="181.2" y="307.6" width="1.7" height="1.7"/><rect x="252.3" y="252.7" width="1.7" height="1.7"/><rect x="203.3" y="298.2" width="1.7" height="1.7"/><rect x="214.0" y="267.6" width="1.7" height="1.7"/><rect x="213.7" y="264.1" width="1.7" height="1.7"/><rect x="202.4" y="267.3" width="1.7" height="1.7"/><rect x="213.3" y="247.1" width="1.7" height="1.7"/><rect x="195.6" y="298.0" width="1.7" height="1.7"/><rect x="201.1" y="334.2" width="1.7" height="1.7"/><rect x="270.2" y="237.6" width="1.7" height="1.7"/><rect x="255.4" y="213.1" width="1.7" height="1.7"/><rect x="187.4" y="306.7" width="1.7" height="1.7"/><rect x="228.0" y="213.8" width="1.7" height="1.7"/><rect x="188.0" y="320.0" width="1.7" height="1.7"/><rect x="228.0" y="260.3" width="1.7" height="1.7"/><rect x="234.7" y="260.5" width="1.7" height="1.7"/><rect x="208.9" y="255.4" width="1.7" height="1.7"/><rect x="156.6" y="332.8" width="1.7" height="1.7"/><rect x="182.7" y="300.4" width="1.7" height="1.7"/><rect x="196.7" y="296.6" width="1.7" height="1.7"/><rect x="146.4" y="364.3" width="1.7" height="1.7"/><rect x="221.8" y="220.5" width="1.7" height="1.7"/><rect x="230.5" y="231.4" width="1.7" height="1.7"/><rect x="213.0" y="278.2" width="1.7" height="1.7"/><rect x="206.9" y="282.5" width="1.7" height="1.7"/><rect x="194.7" y="270.7" width="1.7" height="1.7"/><rect x="182.4" y="284.2" width="1.7" height="1.7"/><rect x="188.3" y="293.1" width="1.7" height="1.7"/><rect x="158.1" y="369.1" width="1.7" height="1.7"/><rect x="191.4" y="288.3" width="1.7" height="1.7"/><rect x="186.7" y="296.8" width="1.7" height="1.7"/><rect x="172.5" y="309.1" width="1.7" height="1.7"/><rect x="199.6" y="248.6" width="1.7" height="1.7"/><rect x="164.5" y="329.8" width="1.7" height="1.7"/><rect x="191.1" y="288.2" width="1.7" height="1.7"/><rect x="161.6" y="369.6" width="1.7" height="1.7"/><rect x="258.1" y="215.2" width="1.7" height="1.7"/><rect x="185.7" y="281.1" width="1.7" height="1.7"/><rect x="193.8" y="303.9" width="1.7" height="1.7"/><rect x="172.1" y="328.9" width="1.7" height="1.7"/><rect x="180.0" y="336.4" width="1.7" height="1.7"/><rect x="221.0" y="279.0" width="1.7" height="1.7"/><rect x="147.4" y="366.0" width="1.7" height="1.7"/><rect x="228.7" y="258.7" width="1.7" height="1.7"/><rect x="174.7" y="306.7" width="1.7" height="1.7"/><rect x="207.7" y="257.9" width="1.7" height="1.7"/><rect x="211.7" y="247.5" width="1.7" height="1.7"/><rect x="186.8" y="277.6" width="1.7" height="1.7"/><rect x="212.9" y="238.5" width="1.7" height="1.7"/><rect x="215.2" y="287.9" width="1.7" height="1.7"/><rect x="141.5" y="352.9" width="1.7" height="1.7"/><rect x="214.9" y="286.5" width="1.7" height="1.7"/><rect x="166.8" y="310.9" width="1.7" height="1.7"/><rect x="192.0" y="267.6" width="1.7" height="1.7"/><rect x="211.1" y="282.0" width="1.7" height="1.7"/><rect x="184.5" y="311.1" width="1.7" height="1.7"/><rect x="202.1" y="246.0" width="1.7" height="1.7"/><rect x="178.6" y="315.5" width="1.7" height="1.7"/><rect x="203.5" y="287.7" width="1.7" height="1.7"/><rect x="205.8" y="268.7" width="1.7" height="1.7"/><rect x="162.6" y="346.3" width="1.7" height="1.7"/><rect x="176.2" y="312.9" width="1.7" height="1.7"/><rect x="219.5" y="229.7" width="1.7" height="1.7"/><rect x="201.7" y="263.5" width="1.7" height="1.7"/><rect x="168.5" y="317.1" width="1.7" height="1.7"/><rect x="201.2" y="297.8" width="1.7" height="1.7"/><rect x="155.7" y="332.7" width="1.7" height="1.7"/><rect x="206.9" y="257.8" width="1.7" height="1.7"/><rect x="185.3" y="303.9" width="1.7" height="1.7"/><rect x="184.9" y="282.5" width="1.7" height="1.7"/><rect x="124.9" y="392.5" width="1.7" height="1.7"/><rect x="201.6" y="272.7" width="1.7" height="1.7"/><rect x="191.2" y="265.3" width="1.7" height="1.7"/><rect x="181.0" y="298.0" width="1.7" height="1.7"/><rect x="200.3" y="254.1" width="1.7" height="1.7"/><rect x="153.0" y="339.3" width="1.7" height="1.7"/><rect x="178.8" y="319.8" width="1.7" height="1.7"/><rect x="179.4" y="287.8" width="1.7" height="1.7"/><rect x="229.0" y="212.4" width="1.7" height="1.7"/><rect x="178.0" y="335.9" width="1.7" height="1.7"/><rect x="275.1" y="238.2" width="1.7" height="1.7"/><rect x="180.8" y="305.8" width="1.7" height="1.7"/><rect x="226.6" y="261.2" width="1.7" height="1.7"/><rect x="325.1" y="128.7" width="1.7" height="1.7"/><rect x="259.4" y="164.8" width="1.7" height="1.7"/><rect x="306.2" y="125.9" width="1.7" height="1.7"/><rect x="297.8" y="149.9" width="1.7" height="1.7"/><rect x="279.0" y="252.8" width="1.7" height="1.7"/><rect x="260.3" y="165.6" width="1.7" height="1.7"/><rect x="258.0" y="180.3" width="1.7" height="1.7"/><rect x="326.5" y="106.3" width="1.7" height="1.7"/><rect x="293.6" y="223.1" width="1.7" height="1.7"/><rect x="282.0" y="146.0" width="1.7" height="1.7"/><rect x="272.9" y="153.3" width="1.7" height="1.7"/><rect x="310.5" y="127.6" width="1.7" height="1.7"/><rect x="281.5" y="121.8" width="1.7" height="1.7"/><rect x="268.1" y="206.1" width="1.7" height="1.7"/><rect x="289.8" y="109.1" width="1.7" height="1.7"/><rect x="293.3" y="90.9" width="1.7" height="1.7"/><rect x="263.9" y="223.1" width="1.7" height="1.7"/><rect x="294.9" y="165.0" width="1.7" height="1.7"/><rect x="275.3" y="231.8" width="1.7" height="1.7"/><rect x="331.5" y="131.0" width="1.7" height="1.7"/><rect x="319.1" y="105.4" width="1.7" height="1.7"/><rect x="258.3" y="192.0" width="1.7" height="1.7"/><rect x="283.8" y="122.1" width="1.7" height="1.7"/><rect x="374.1" y="102.4" width="1.7" height="1.7"/><rect x="287.7" y="168.4" width="1.7" height="1.7"/></g>
<g stroke="#a9a9a9" stroke-width="0.95"><line x1="125.5" y1="379.5" x2="505.5" y2="379.5"/><line x1="363.0" y1="132.6" x2="173.0" y2="461.7"/><line x1="268.0" y1="132.6" x2="458.0" y2="461.7"/><line x1="173.0" y1="297.5" x2="458.0" y2="297.5"/><line x1="410.5" y1="214.9" x2="268.0" y2="461.7"/><line x1="220.5" y1="214.9" x2="363.0" y2="461.7"/><line x1="220.5" y1="215.5" x2="410.5" y2="215.5"/><line x1="458.0" y1="297.1" x2="363.0" y2="461.7"/><line x1="173.0" y1="297.1" x2="268.0" y2="461.7"/><line x1="268.0" y1="133.5" x2="363.0" y2="133.5"/><line x1="505.5" y1="379.4" x2="458.0" y2="461.7"/><line x1="125.5" y1="379.4" x2="173.0" y2="461.7"/></g>
<g stroke="#666" stroke-width="1.05" fill="none">
<path d="M185.5,55.5 L185.5,255.5 L434,255.5"/>
<path d="M179.5,55.5H185.5M179.5,133.5H185.5M179.5,215H185.5"/>
</g>
<text x="177.0" y="60.8" font-size="14.5" fill="#444" font-weight="normal" font-style="normal" text-anchor="end" >100</text>
<text x="177.0" y="138.7" font-size="14.5" fill="#444" font-weight="normal" font-style="normal" text-anchor="end" >80</text>
<text x="177.0" y="220.3" font-size="14.5" fill="#444" font-weight="normal" font-style="normal" text-anchor="end" >60</text>
<text x="268.5" y="249.2" font-size="18.3" fill="#333" font-weight="normal" font-style="italic" text-anchor="start" >Feldspar line</text>
<path d="M315.5,50.3 L553.0,461.7" stroke="#222" stroke-width="1.45" fill="none"/>
<path d="M553.5,461.7 L78.0,461.7" stroke="#454545" stroke-width="2" fill="none"/>
<line x1="315.5" y1="50.3" x2="288.5" y2="97.4" stroke="#222" stroke-width="1.3"/>
<line x1="257.8" y1="150.9" x2="78.0" y2="461.7" stroke="#9a9a9a" stroke-width="1.1"/>
<line x1="257.4" y1="150.9" x2="221.0" y2="214.0" stroke="#1a1a1a" stroke-width="1.2" stroke-dasharray="7,3"/>
<line x1="221.0" y1="214.0" x2="125.2" y2="380.0" stroke="#333" stroke-width="1.1" stroke-dasharray="2,15"/>
<line x1="125.2" y1="380.0" x2="78.0" y2="461.7" stroke="#1a1a1a" stroke-width="1.2" stroke-dasharray="6,3,2,3"/>
<text x="217.3" y="218.4" font-size="13.5" fill="#111" font-weight="bold" font-style="normal" text-anchor="end" >40</text>
<text x="168.0" y="301.9" font-size="13.5" fill="#111" font-weight="normal" font-style="normal" text-anchor="end" >60</text>
<text x="120.5" y="384.2" font-size="13.5" fill="#111" font-weight="normal" font-style="normal" text-anchor="end" >80</text>
<text x="413.2" y="217.1" font-size="13.5" fill="#111" font-weight="normal" font-style="normal" text-anchor="start" >60</text>
<text x="464.5" y="302.1" font-size="13.5" fill="#111" font-weight="normal" font-style="normal" text-anchor="start" >40</text>
<text x="512.0" y="384.4" font-size="13.5" fill="#111" font-weight="normal" font-style="normal" text-anchor="start" >20</text>
<text x="172.5" y="475.0" font-size="13.5" fill="#111" font-weight="normal" font-style="normal" text-anchor="start" >20</text>
<text x="267.5" y="475.0" font-size="13.5" fill="#111" font-weight="normal" font-style="normal" text-anchor="start" >40</text>
<text x="362.5" y="475.0" font-size="13.5" fill="#111" font-weight="normal" font-style="normal" text-anchor="start" >60</text>
<text x="457.5" y="475.0" font-size="13.5" fill="#111" font-weight="normal" font-style="normal" text-anchor="start" >80</text>
<text x="105.0" y="93.6" font-size="15.6" fill="#222" font-weight="normal" font-style="italic" text-anchor="middle" >Extreme silicate</text>
<text x="105.0" y="109.6" font-size="15.6" fill="#222" font-weight="normal" font-style="italic" text-anchor="middle" >weathering</text>
<text x="105.0" y="167.3" font-size="15.6" fill="#222" font-weight="normal" font-style="italic" text-anchor="middle" >Low to moderate</text>
<text x="105.0" y="182.8" font-size="15.6" fill="#222" font-weight="normal" font-style="italic" text-anchor="middle" >silicate weathering</text>
<polygon points="219.70,203.20 230.70,203.20 225.20,212.70" fill="#f29a33" stroke="#c46b1b" stroke-width="0.8"/>
<polygon points="241.80,166.40 252.80,166.40 247.30,175.90" fill="#f29a33" stroke="#c46b1b" stroke-width="0.8"/>
<polygon points="256.50,153.80 267.50,153.80 262.00,163.30" fill="#f29a33" stroke="#c46b1b" stroke-width="0.8"/>
<polygon points="251.30,145.40 262.30,145.40 256.80,154.90" fill="#f29a33" stroke="#c46b1b" stroke-width="0.8"/>
<polygon points="266.00,123.30 277.00,123.30 271.50,132.80" fill="#f29a33" stroke="#c46b1b" stroke-width="0.8"/>
<polygon points="272.30,109.70 283.30,109.70 277.80,119.20" fill="#f29a33" stroke="#c46b1b" stroke-width="0.8"/>
<polygon points="279.60,113.90 290.60,113.90 285.10,123.40" fill="#f29a33" stroke="#c46b1b" stroke-width="0.8"/>
<polygon points="218.40,245.90 223.10,252.20 218.40,258.50 213.70,252.20" fill="#3b7bd0" stroke="#1d348c" stroke-width="0.8"/>
<polygon points="252.60,194.60 257.30,200.90 252.60,207.20 247.90,200.90" fill="#3b7bd0" stroke="#1d348c" stroke-width="0.8"/>
<polygon points="262.00,191.40 266.70,197.70 262.00,204.00 257.30,197.70" fill="#3b7bd0" stroke="#1d348c" stroke-width="0.8"/>
<polygon points="263.10,166.20 267.80,172.50 263.10,178.80 258.40,172.50" fill="#3b7bd0" stroke="#1d348c" stroke-width="0.8"/>
<polygon points="270.40,168.30 275.10,174.60 270.40,180.90 265.70,174.60" fill="#3b7bd0" stroke="#1d348c" stroke-width="0.8"/>
<polygon points="289.30,141.00 294.00,147.30 289.30,153.60 284.60,147.30" fill="#3b7bd0" stroke="#1d348c" stroke-width="0.8"/>
<polygon points="307.20,132.60 311.90,138.90 307.20,145.20 302.50,138.90" fill="#3b7bd0" stroke="#1d348c" stroke-width="0.8"/>
<polygon points="251.30,200.70 262.30,200.70 256.80,191.20" fill="#82da2c" stroke="#3f6e1c" stroke-width="0.8"/>
<polygon points="279.00,191.20 288.50,196.70 279.00,202.20" fill="#82da2c" stroke="#3f6e1c" stroke-width="0.8"/>
<path d="M260.30,147.70L267.90,155.30M260.30,155.30L267.90,147.70" stroke="#b4471b" stroke-width="1.5" fill="none"/>
<polygon points="306.00,107.70 310.70,114.00 306.00,120.30 301.30,114.00" fill="#3b7bd0" stroke="#1d348c" stroke-width="0.8"/>
<polygon points="290.10,121.90 301.10,121.90 295.60,112.40" fill="#82da2c" stroke="#3f6e1c" stroke-width="0.8"/>
<polygon points="296.50,128.20 307.50,128.20 302.00,118.70" fill="#82da2c" stroke="#3f6e1c" stroke-width="0.8"/>
<polygon points="303.80,122.90 314.80,122.90 309.30,113.40" fill="#82da2c" stroke="#3f6e1c" stroke-width="0.8"/>
<polygon points="297.50,135.50 308.50,135.50 303.00,126.00" fill="#82da2c" stroke="#3f6e1c" stroke-width="0.8"/>
<path d="M294.00,124.60L301.60,132.20M294.00,132.20L301.60,124.60" stroke="#b4471b" stroke-width="1.5" fill="none"/>
<polygon points="323.80,102.90 314.30,108.40 323.80,113.90" fill="#82da2c" stroke="#3f6e1c" stroke-width="0.8"/>
<polygon points="304.90,112.40 315.90,112.40 310.40,102.90" fill="#82da2c" stroke="#3f6e1c" stroke-width="0.8"/>
<polygon points="316.00,68.60 325.00,68.60 325.00,77.60 316.00,77.60" fill="#f29a33" stroke="#c46b1b" stroke-width="0.8"/>
<polygon points="317.00,78.50 326.00,78.50 326.00,87.50 317.00,87.50" fill="#f29a33" stroke="#c46b1b" stroke-width="0.8"/>
<polygon points="303.50,65.50 305.15,69.73 309.68,69.99 306.16,72.87 307.32,77.26 303.50,74.80 299.68,77.26 300.84,72.87 297.32,69.99 301.85,69.73" fill="#f29a33" stroke="#c46b1b" stroke-width="0.8"/>
<circle cx="303.20" cy="80.20" r="4.70" fill="#f29a33" stroke="#c46b1b" stroke-width="0.8"/>
<path d="M298.20,75.20L308.20,75.20M303.20,70.20L303.20,80.20" stroke="#b4471b" stroke-width="1.6" fill="none"/>
<polygon points="291.30,85.70 302.30,85.70 296.80,95.20" fill="#f29a33" stroke="#c46b1b" stroke-width="0.8"/>
<circle cx="304.60" cy="89.00" r="4.70" fill="#f29a33" stroke="#c46b1b" stroke-width="0.8"/>
<polygon points="320.10,82.50 321.75,86.73 326.28,86.99 322.76,89.87 323.92,94.26 320.10,91.80 316.28,94.26 317.44,89.87 313.92,86.99 318.45,86.73" fill="#f29a33" stroke="#c46b1b" stroke-width="0.8"/>
<polygon points="318.10,93.30 319.75,97.53 324.28,97.79 320.76,100.67 321.92,105.06 318.10,102.60 314.28,105.06 315.44,100.67 311.92,97.79 316.45,97.53" fill="#f29a33" stroke="#c46b1b" stroke-width="0.8"/>
<polygon points="304.30,85.90 305.95,90.13 310.48,90.39 306.96,93.27 308.12,97.66 304.30,95.20 300.48,97.66 301.64,93.27 298.12,90.39 302.65,90.13" fill="#f29a33" stroke="#c46b1b" stroke-width="0.8"/>
<path d="M316.90,88.40L326.10,88.40M321.50,83.80L321.50,93.00M318.25,85.15L324.75,91.65M318.25,91.65L324.75,85.15" stroke="#8c3513" stroke-width="1.5" fill="none"/>
<polygon points="315.40,68.90 317.25,72.30 321.12,72.20 319.10,75.50 321.12,78.80 317.25,78.70 315.40,82.10 313.55,78.70 309.68,78.80 311.70,75.50 309.68,72.20 313.55,72.30" fill="#ff2010" stroke="#a8150c" stroke-width="0.8"/>
<polygon points="313.40,77.00 315.25,80.40 319.12,80.30 317.10,83.60 319.12,86.90 315.25,86.80 313.40,90.20 311.55,86.80 307.68,86.90 309.70,83.60 307.68,80.30 311.55,80.40" fill="#ff2010" stroke="#a8150c" stroke-width="0.8"/>
<polygon points="310.30,86.50 312.15,89.90 316.02,89.80 314.00,93.10 316.02,96.40 312.15,96.30 310.30,99.70 308.45,96.30 304.58,96.40 306.60,93.10 304.58,89.80 308.45,89.90" fill="#ff2010" stroke="#a8150c" stroke-width="0.8"/>
<polygon points="303.20,94.60 305.05,98.00 308.92,97.90 306.90,101.20 308.92,104.50 305.05,104.40 303.20,107.80 301.35,104.40 297.48,104.50 299.50,101.20 297.48,97.90 301.35,98.00" fill="#ff2010" stroke="#a8150c" stroke-width="0.8"/>
<polygon points="309.00,79.40 310.85,82.80 314.72,82.70 312.70,86.00 314.72,89.30 310.85,89.20 309.00,92.60 307.15,89.20 303.28,89.30 305.30,86.00 303.28,82.70 307.15,82.80" fill="#ff2010" stroke="#a8150c" stroke-width="0.8"/>
<polygon points="313.00,89.40 314.85,92.80 318.72,92.70 316.70,96.00 318.72,99.30 314.85,99.20 313.00,102.60 311.15,99.20 307.28,99.30 309.30,96.00 307.28,92.70 311.15,92.80" fill="#ff2010" stroke="#a8150c" stroke-width="0.8"/>
<polygon points="306.00,93.40 307.85,96.80 311.72,96.70 309.70,100.00 311.72,103.30 307.85,103.20 306.00,106.60 304.15,103.20 300.28,103.30 302.30,100.00 300.28,96.70 304.15,96.80" fill="#ff2010" stroke="#a8150c" stroke-width="0.8"/>
<polygon points="317.00,73.40 318.85,76.80 322.72,76.70 320.70,80.00 322.72,83.30 318.85,83.20 317.00,86.60 315.15,83.20 311.28,83.30 313.30,80.00 311.28,76.70 315.15,76.80" fill="#ff2010" stroke="#a8150c" stroke-width="0.8"/>
<polygon points="311.00,72.40 312.85,75.80 316.72,75.70 314.70,79.00 316.72,82.30 312.85,82.20 311.00,85.60 309.15,82.20 305.28,82.30 307.30,79.00 305.28,75.70 309.15,75.80" fill="#ff2010" stroke="#a8150c" stroke-width="0.8"/>
<polygon points="316.00,83.40 317.85,86.80 321.72,86.70 319.70,90.00 321.72,93.30 317.85,93.20 316.00,96.60 314.15,93.20 310.28,93.30 312.30,90.00 310.28,86.70 314.15,86.80" fill="#ff2010" stroke="#a8150c" stroke-width="0.8"/>
<path d="M293.40,103.20L302.60,103.20M298.00,98.60L298.00,107.80M294.75,99.95L301.25,106.45M294.75,106.45L301.25,99.95" stroke="#8c3513" stroke-width="1.5" fill="none"/>
<path d="M296.10,103.60L303.70,111.20M296.10,111.20L303.70,103.60" stroke="#b4471b" stroke-width="1.5" fill="none"/>
<line x1="288.50" y1="97.40" x2="257.80" y2="150.90" stroke="#000" stroke-width="3.2" />
<line x1="342.50" y1="96.00" x2="386.80" y2="172.60" stroke="#000" stroke-width="3.2" />
<text font-size="17.8" fill="#111" text-anchor="middle" transform="translate(263.5,125.8) rotate(-60)">Smectite</text>
<text font-size="16.5" fill="#111" text-anchor="middle" transform="translate(371.5,134.5) rotate(60)">Illite</text>
<polygon points="315.00,41.80 317.00,47.25 322.80,47.47 318.23,51.05 319.82,56.63 315.00,53.40 310.18,56.63 311.77,51.05 307.20,47.47 313.00,47.25" fill="#f4f4f4" stroke="#5a5a5a" stroke-width="1"/>
<text x="323.5" y="54.5" font-size="16.5" fill="#111" font-weight="normal" font-style="italic" text-anchor="start" >Kaolinite, Gibbsite</text>
<text x="-0.09" y="485.50" font-size="24.7" fill="#111" font-weight="bold" font-style="normal" textLength="50.14" lengthAdjust="spacingAndGlyphs" >CaO</text>
<text x="58.55" y="484.70" font-size="24.7" fill="#111" font-weight="bold" font-style="normal" textLength="14.48" lengthAdjust="spacingAndGlyphs" >+</text>
<text x="80.53" y="485.50" font-size="24.7" fill="#111" font-weight="bold" font-style="normal" textLength="30.45" lengthAdjust="spacingAndGlyphs" >Na</text>
<text x="113.20" y="498.20" font-size="20" fill="#111" font-weight="bold" font-style="normal" textLength="10.26" lengthAdjust="spacingAndGlyphs" >2</text>
<text x="123.91" y="485.50" font-size="24.7" fill="#111" font-weight="bold" font-style="normal" textLength="19.70" lengthAdjust="spacingAndGlyphs" >O</text>
<text x="541.18" y="484.20" font-size="25.5" fill="#111" font-weight="bold" font-style="normal" textLength="17.24" lengthAdjust="spacingAndGlyphs" >K</text>
<text x="560.10" y="496.50" font-size="20" fill="#111" font-weight="bold" font-style="normal" textLength="10.60" lengthAdjust="spacingAndGlyphs" >2</text>
<text x="571.08" y="484.20" font-size="25.5" fill="#111" font-weight="bold" font-style="normal" textLength="19.25" lengthAdjust="spacingAndGlyphs" >O</text>
<text x="1.66" y="554.60" font-size="45" fill="#d9261c" font-weight="bold" font-style="normal" textLength="31.14" lengthAdjust="spacingAndGlyphs" >B</text>
<path d="M93.5,539.5999999999999 V899.5 H621.5" stroke="#5c5c5c" stroke-width="1.1" fill="none"/>
<path d="M93.5,827.5h5.5 M199.1,899.5v-5.5 M93.5,755.5h5.5 M304.7,899.5v-5.5 M93.5,683.6h5.5 M410.3,899.5v-5.5 M93.5,611.6h5.5 M515.9,899.5v-5.5 " stroke="#5c5c5c" stroke-width="1.1"/>
<text x="85.8" y="548.0" font-size="22.3" fill="#222" font-weight="normal" font-style="normal" text-anchor="end" >100</text>
<text x="85.8" y="620.0" font-size="22.3" fill="#222" font-weight="normal" font-style="normal" text-anchor="end" >80</text>
<text x="85.8" y="692.0" font-size="22.3" fill="#222" font-weight="normal" font-style="normal" text-anchor="end" >60</text>
<text x="85.8" y="763.9" font-size="22.3" fill="#222" font-weight="normal" font-style="normal" text-anchor="end" >40</text>
<text x="85.8" y="835.9" font-size="22.3" fill="#222" font-weight="normal" font-style="normal" text-anchor="end" >20</text>
<text x="85.8" y="907.9" font-size="22.3" fill="#222" font-weight="normal" font-style="normal" text-anchor="end" >0</text>
<text x="93.5" y="928.2" font-size="22" fill="#222" font-weight="normal" font-style="normal" text-anchor="middle" >0</text>
<text x="199.1" y="928.2" font-size="22" fill="#222" font-weight="normal" font-style="normal" text-anchor="middle" >20</text>
<text x="304.7" y="928.2" font-size="22" fill="#222" font-weight="normal" font-style="normal" text-anchor="middle" >40</text>
<text x="410.3" y="928.2" font-size="22" fill="#222" font-weight="normal" font-style="normal" text-anchor="middle" >60</text>
<text x="515.9" y="928.2" font-size="22" fill="#222" font-weight="normal" font-style="normal" text-anchor="middle" >80</text>
<text x="621.5" y="928.2" font-size="22" fill="#222" font-weight="normal" font-style="normal" text-anchor="middle" >100</text>
<text x="277.76" y="961.60" font-size="25.5" fill="#262626" font-weight="bold" font-style="normal" textLength="26.96" lengthAdjust="spacingAndGlyphs" >Al</text>
<text x="304.45" y="974.60" font-size="21.5" fill="#262626" font-weight="bold" font-style="normal" textLength="11.30" lengthAdjust="spacingAndGlyphs" >2</text>
<text x="316.78" y="961.60" font-size="25.5" fill="#262626" font-weight="bold" font-style="normal" textLength="19.81" lengthAdjust="spacingAndGlyphs" >O</text>
<text x="339.02" y="974.60" font-size="21.5" fill="#262626" font-weight="bold" font-style="normal" textLength="10.28" lengthAdjust="spacingAndGlyphs" >3</text>
<text x="357.30" y="961.60" font-size="26" fill="#262626" font-weight="bold" font-style="normal" textLength="79.13" lengthAdjust="spacingAndGlyphs" >(wt %)</text>
<text x="-0.78" y="0" font-size="26.5" fill="#262626" font-weight="bold" font-style="normal" textLength="45.00" lengthAdjust="spacingAndGlyphs" transform="translate(41.00,790.70) rotate(-90)">SiO</text>
<text x="-0.70" y="0" font-size="21.5" fill="#262626" font-weight="bold" font-style="normal" textLength="11.18" lengthAdjust="spacingAndGlyphs" transform="translate(53.30,745.10) rotate(-90)">2</text>
<text x="-1.32" y="0" font-size="26.5" fill="#262626" font-weight="bold" font-style="normal" textLength="77.88" lengthAdjust="spacingAndGlyphs" transform="translate(41.00,724.90) rotate(-90)">(wt %)</text>
<circle cx="93.5" cy="539.6" r="3.6" fill="#dcdcdc" stroke="#8a8a8a" stroke-width="0.9"/>
<text x="100.5" y="545.1" font-size="16" font-style="italic" fill="#444">SiO<tspan font-size="13.5" font-style="normal" dy="0">2</tspan></text>
<path d="M144.0,702.5 C140.7,701.5 138.7,701.7 136.0,701.8 C133.3,701.9 130.4,702.9 127.8,703.3 C125.2,703.7 122.5,704.1 120.3,704.4 C118.1,704.7 115.9,704.6 114.5,705.3 C113.1,706.0 112.7,707.3 111.8,708.5 C110.9,709.7 110.0,711.2 109.0,712.5 C108.0,713.8 107.0,714.6 106.0,716.0 C105.0,717.4 104.0,718.9 103.0,721.0 C102.0,723.1 100.9,726.3 100.0,728.8 C99.1,731.3 98.1,733.5 97.6,736.0 C97.0,738.5 96.8,741.3 96.7,743.8 C96.6,746.3 96.8,748.8 97.2,751.0 C97.7,753.2 98.3,755.0 99.4,757.0 C100.5,759.0 102.2,761.5 103.9,763.3 C105.6,765.1 107.5,766.8 109.3,767.8 C111.1,768.8 112.9,769.6 114.7,769.6 C116.5,769.6 118.3,768.8 120.1,767.8 C121.9,766.8 123.8,765.1 125.5,763.3 C127.2,761.5 128.6,759.0 130.0,757.0 C131.4,755.0 132.3,752.7 134.0,751.0 C135.7,749.3 137.3,748.2 140.0,747.0 C142.7,745.8 147.0,745.8 150.0,744.0 C153.0,742.2 156.3,739.7 158.0,736.0 C159.7,732.3 160.3,726.7 160.0,722.0 C159.7,717.3 158.7,711.2 156.0,708.0 C153.3,704.8 147.3,703.5 144.0,702.5Z" stroke="#a3a3a3" stroke-width="1.45" fill="none"/>
<path d="M144.0,707.4 C141.0,706.0 138.6,707.1 136.0,707.4 C133.4,707.7 130.5,708.4 128.5,709.3 C126.5,710.2 125.3,711.8 124.0,713.0 C122.7,714.2 121.7,715.4 120.5,716.5 C119.3,717.6 118.2,718.8 116.8,719.8 C115.4,720.8 113.6,721.0 112.0,722.2 C110.4,723.4 108.7,725.2 107.2,727.0 C105.7,728.8 104.0,730.8 103.0,733.0 C102.0,735.2 101.7,737.8 101.5,740.2 C101.3,742.6 101.5,745.2 101.8,747.4 C102.0,749.6 102.2,751.7 103.0,753.4 C103.8,755.1 105.1,756.3 106.6,757.5 C108.1,758.7 110.0,759.9 112.0,760.6 C114.0,761.3 116.3,761.8 118.3,761.5 C120.2,761.2 122.1,760.1 123.7,758.8 C125.3,757.4 126.7,755.1 128.2,753.4 C129.6,751.7 130.4,749.9 132.4,748.5 C134.4,747.1 137.1,746.4 140.0,745.0 C142.9,743.6 147.5,742.5 150.0,740.0 C152.5,737.5 154.3,734.0 155.0,730.0 C155.7,726.0 155.8,719.8 154.0,716.0 C152.2,712.2 147.0,708.8 144.0,707.4Z" stroke="#a3a3a3" stroke-width="1.45" fill="none"/>
<path d="M144.0,710.4 C141.7,709.6 138.3,710.2 136.0,711.1 C133.7,712.0 132.3,714.0 130.0,716.0 C127.7,718.0 124.7,721.1 122.2,722.8 C119.7,724.5 117.0,725.1 115.0,726.4 C113.0,727.7 111.6,729.0 110.2,730.6 C108.8,732.2 107.3,734.0 106.6,736.0 C105.8,738.0 105.7,740.5 105.7,742.6 C105.8,744.7 106.2,747.0 106.9,748.6 C107.7,750.2 108.9,751.7 110.2,752.2 C111.5,752.7 113.2,752.4 115.0,751.5 C116.8,750.6 119.3,748.2 121.0,746.8 C122.7,745.4 123.7,743.9 125.2,743.2 C126.7,742.5 128.2,742.9 130.0,742.6 C131.8,742.3 133.3,742.4 136.0,741.5 C138.7,740.6 143.5,739.4 146.0,737.0 C148.5,734.6 150.3,730.5 151.0,727.0 C151.7,723.5 151.2,718.8 150.0,716.0 C148.8,713.2 146.3,711.2 144.0,710.4Z" stroke="#a3a3a3" stroke-width="1.45" fill="none"/>
<path d="M141.0,713.5 C139.1,713.5 136.3,714.4 134.5,715.5 C132.7,716.6 131.1,718.6 130.0,720.0 C128.9,721.4 128.6,722.5 128.2,724.0 C127.8,725.5 127.5,727.0 127.6,728.8 C127.7,730.6 128.2,733.2 128.8,734.8 C129.4,736.4 130.2,737.6 131.2,738.4 C132.2,739.2 133.2,739.6 135.0,739.5 C136.8,739.4 139.8,739.2 142.0,738.0 C144.2,736.8 146.8,734.7 148.0,732.0 C149.2,729.3 149.3,724.8 149.0,722.0 C148.7,719.2 147.3,716.9 146.0,715.5 C144.7,714.1 142.9,713.5 141.0,713.5Z" stroke="#a3a3a3" stroke-width="1.45" fill="none"/>
<ellipse cx="114.4" cy="742.3" rx="4.2" ry="3.8" stroke="#a3a3a3" stroke-width="1.45" fill="none"/>
<path d="M140.0,750.7 L139.0,750.9 L138.0,750.7 L137.5,750.4 L137.0,749.9 L136.5,749.3 L136.0,748.5 L135.8,748.0 L135.5,747.0 L135.4,746.5 L135.3,745.5 L135.3,744.5 L135.4,743.5 L135.5,742.9 L135.7,742.0 L136.0,741.1 L136.2,740.5 L136.5,739.6 L136.6,739.0 L136.6,738.0 L136.5,737.5 L136.1,736.5 L135.8,736.0 L135.5,735.5 L135.0,734.7 L134.6,734.0 L134.3,733.5 L134.0,732.8 L133.7,732.0 L133.5,731.5 L133.2,730.5 L133.0,729.5 L132.9,729.0 L132.9,728.0 L132.9,727.0 L132.9,726.0 L133.0,725.5 L133.2,724.5 L133.4,723.5 L133.6,723.0 L134.0,722.0 L134.2,721.5 L134.5,720.9 L135.0,720.0 L135.3,719.5 L135.6,719.0 L136.0,718.5 L136.5,717.9 L137.0,717.3 L137.5,716.8 L138.0,716.3 L138.5,715.9 L139.0,715.5 L139.6,715.0 L140.3,714.5 L141.0,714.1 L141.5,713.8 L142.0,713.5 L143.0,713.0 L143.5,712.8 L144.2,712.5 L145.0,712.2 L145.8,712.0 L146.5,711.8 L147.5,711.6 L148.4,711.5 L149.0,711.4 L150.0,711.4 L151.0,711.4 L152.0,711.4 L152.5,711.5 L153.5,711.6 L154.5,711.9 L155.0,712.0 L156.0,712.3 L156.5,712.5 L157.5,712.9 L158.0,713.2 L158.5,713.5 L159.3,714.0 L160.0,714.5 L160.5,714.9 L161.0,715.3 L161.5,715.8 L162.0,716.4 L162.5,717.0 L162.8,717.5 L163.1,718.0 L163.5,718.7 L163.9,719.5 L164.1,720.0 L164.4,721.0 L164.5,721.5 L164.7,722.5 L164.8,723.5 L164.9,724.5 L164.9,725.5 L164.9,726.5 L164.9,727.5 L164.8,728.5 L164.8,729.5 L164.9,730.5 L164.9,731.5 L165.0,732.3 L165.1,733.0 L165.2,734.0 L165.2,735.0 L165.3,736.0 L165.2,737.0 L165.1,738.0 L165.0,738.5 L164.7,739.5 L164.5,740.0 L164.0,740.9 L163.6,741.5 L163.2,742.0 L162.8,742.5 L162.3,743.0 L161.6,743.5 L161.0,743.9 L160.5,744.2 L159.7,744.5 L159.0,744.7 L158.0,744.9 L157.4,745.0 L156.5,745.0 L156.0,745.0 L155.0,744.8 L154.0,744.6 L153.5,744.4 L152.5,744.0 L152.0,743.8 L151.3,743.5 L150.5,743.1 L150.0,742.9 L149.1,742.5 L148.5,742.3 L147.7,742.0 L147.0,741.8 L146.0,741.6 L145.5,741.5 L144.5,741.4 L144.0,741.5 L143.4,742.0 L143.0,743.0 L142.9,743.5 L142.9,744.5 L142.8,745.5 L142.6,746.5 L142.5,747.0 L142.2,748.0 L142.0,748.5 L141.5,749.3 L141.0,749.9 L140.5,750.4 L140.0,750.7 L140.0,750.7Z" stroke="#7d2f9c" stroke-width="1.6" fill="none"/>
<path d="M157.5,740.6 L156.5,740.8 L155.5,740.8 L154.5,740.6 L153.8,740.5 L153.0,740.3 L152.0,740.1 L151.5,740.0 L150.5,739.8 L149.5,739.6 L148.9,739.5 L148.0,739.3 L147.0,739.2 L146.2,739.0 L145.5,738.9 L144.5,738.6 L144.0,738.5 L143.0,738.2 L142.4,738.0 L141.5,737.7 L141.0,737.4 L140.4,737.0 L139.7,736.5 L139.2,736.0 L138.7,735.5 L138.3,735.0 L137.9,734.5 L137.5,734.0 L137.0,733.2 L136.6,732.5 L136.4,732.0 L136.0,731.0 L135.8,730.5 L135.6,729.5 L135.5,728.8 L135.4,728.0 L135.4,727.0 L135.5,726.3 L135.6,725.5 L135.8,724.5 L136.0,724.0 L136.4,723.0 L136.6,722.5 L137.0,721.8 L137.5,721.0 L137.9,720.5 L138.3,720.0 L138.7,719.5 L139.2,719.0 L139.7,718.5 L140.3,718.0 L141.0,717.5 L141.5,717.1 L142.0,716.8 L142.6,716.5 L143.5,716.1 L144.0,715.8 L144.9,715.5 L145.5,715.3 L146.5,715.0 L147.0,714.9 L148.0,714.8 L149.0,714.7 L150.0,714.7 L151.0,714.7 L152.0,714.9 L152.6,715.0 L153.5,715.2 L154.3,715.5 L155.0,715.8 L155.5,716.0 L156.4,716.5 L157.0,716.9 L157.5,717.3 L158.0,717.7 L158.5,718.2 L159.0,718.8 L159.5,719.4 L159.9,720.0 L160.1,720.5 L160.5,721.3 L160.8,722.0 L161.0,722.8 L161.2,723.5 L161.3,724.5 L161.4,725.5 L161.5,726.5 L161.5,727.5 L161.5,728.5 L161.4,729.5 L161.4,730.5 L161.4,731.5 L161.4,732.5 L161.3,733.5 L161.3,734.5 L161.3,735.5 L161.1,736.5 L161.0,737.0 L160.6,738.0 L160.3,738.5 L160.0,739.0 L159.5,739.5 L158.9,740.0 L158.0,740.4 L157.5,740.6 L157.5,740.6Z" stroke="#7d2f9c" stroke-width="1.6" fill="none"/>
<path d="M152.5,736.5 L151.5,736.7 L150.5,736.8 L149.5,736.8 L148.5,736.8 L147.5,736.8 L146.5,736.6 L145.9,736.5 L145.0,736.3 L144.2,736.0 L143.5,735.7 L143.0,735.5 L142.1,735.0 L141.5,734.6 L141.0,734.1 L140.5,733.7 L140.0,733.1 L139.5,732.5 L139.2,732.0 L138.9,731.5 L138.5,730.5 L138.3,730.0 L138.1,729.0 L138.0,728.2 L138.0,727.5 L138.0,727.0 L138.1,726.0 L138.4,725.0 L138.6,724.5 L139.0,723.5 L139.3,723.0 L139.6,722.5 L140.0,722.0 L140.5,721.4 L141.0,720.9 L141.5,720.4 L142.1,720.0 L142.8,719.5 L143.5,719.1 L144.0,718.9 L144.9,718.5 L145.5,718.3 L146.5,718.0 L147.0,717.9 L148.0,717.8 L149.0,717.7 L150.0,717.8 L151.0,718.0 L151.5,718.1 L152.5,718.4 L153.0,718.6 L153.8,719.0 L154.5,719.4 L155.0,719.8 L155.5,720.2 L156.0,720.7 L156.5,721.3 L157.0,722.0 L157.3,722.5 L157.5,723.0 L157.9,724.0 L158.0,724.5 L158.2,725.5 L158.3,726.5 L158.3,727.5 L158.3,728.5 L158.2,729.5 L158.0,730.5 L157.9,731.0 L157.6,732.0 L157.4,732.5 L157.0,733.4 L156.6,734.0 L156.3,734.5 L155.8,735.0 L155.2,735.5 L154.5,735.9 L154.0,736.1 L153.0,736.4 L152.5,736.5 L152.5,736.5Z" stroke="#7a3a9c" stroke-width="1.2" fill="#7f3d9e" fill-opacity="0.4"/>
<path d="M149.5,735.5 L148.5,735.6 L147.5,735.5 L147.0,735.5 L146.0,735.3 L145.0,735.0 L144.5,734.8 L143.7,734.5 L143.0,734.1 L142.5,733.8 L142.0,733.4 L141.5,732.9 L141.0,732.4 L140.5,731.7 L140.1,731.0 L139.9,730.5 L139.5,729.5 L139.4,729.0 L139.3,728.0 L139.3,727.0 L139.5,726.0 L139.6,725.5 L140.0,724.5 L140.2,724.0 L140.5,723.5 L141.0,722.8 L141.5,722.2 L142.0,721.7 L142.5,721.3 L143.0,720.9 L143.7,720.5 L144.5,720.1 L145.0,719.9 L146.0,719.5 L146.5,719.4 L147.5,719.3 L148.5,719.2 L149.5,719.2 L150.5,719.4 L151.0,719.5 L152.0,719.8 L152.5,720.1 L153.3,720.5 L153.9,721.0 L154.5,721.5 L155.0,722.0 L155.4,722.5 L155.7,723.0 L156.0,723.6 L156.4,724.5 L156.5,725.0 L156.7,726.0 L156.8,727.0 L156.8,728.0 L156.7,729.0 L156.5,729.9 L156.3,730.5 L156.0,731.4 L155.7,732.0 L155.4,732.5 L155.0,733.0 L154.5,733.5 L153.9,734.0 L153.2,734.5 L152.5,734.8 L152.0,735.0 L151.0,735.3 L150.0,735.5 L149.5,735.5 L149.5,735.5Z" stroke="#7a3a9c" stroke-width="1.2" fill="#7f3d9e" fill-opacity="0.4"/>
<path d="M148.5,734.5 L147.6,734.5 L147.0,734.4 L146.0,734.3 L145.1,734.0 L144.5,733.7 L144.0,733.5 L143.2,733.0 L142.6,732.5 L142.1,732.0 L141.7,731.5 L141.3,731.0 L141.0,730.4 L140.6,729.5 L140.5,729.0 L140.4,728.0 L140.4,727.0 L140.5,726.3 L140.7,725.5 L141.0,724.8 L141.5,724.0 L141.8,723.5 L142.2,723.0 L142.8,722.5 L143.4,722.0 L144.0,721.6 L144.5,721.3 L145.1,721.0 L146.0,720.7 L146.8,720.5 L147.5,720.4 L148.5,720.3 L149.5,720.4 L150.0,720.5 L151.0,720.8 L151.5,721.0 L152.5,721.5 L153.0,721.9 L153.5,722.3 L154.0,722.8 L154.5,723.5 L154.8,724.0 L155.0,724.5 L155.4,725.5 L155.5,726.1 L155.6,727.0 L155.6,728.0 L155.5,728.7 L155.3,729.5 L155.0,730.4 L154.7,731.0 L154.4,731.5 L154.0,732.1 L153.5,732.6 L153.0,733.0 L152.3,733.5 L151.5,733.9 L151.0,734.1 L150.0,734.3 L149.0,734.5 L148.5,734.5 L148.5,734.5Z" stroke="#7a3a9c" stroke-width="1.2" fill="#7f3d9e" fill-opacity="0.4"/>
<path d="M149.0,733.5 L148.0,733.6 L147.0,733.5 L146.5,733.5 L145.5,733.2 L145.0,733.0 L144.1,732.5 L143.5,732.1 L143.0,731.6 L142.5,731.1 L142.1,730.5 L141.9,730.0 L141.5,729.0 L141.4,728.5 L141.3,727.5 L141.5,726.5 L141.6,726.0 L142.0,725.0 L142.3,724.5 L142.6,724.0 L143.1,723.5 L143.6,723.0 L144.3,722.5 L145.0,722.1 L145.5,721.9 L146.5,721.6 L147.0,721.5 L148.0,721.4 L149.0,721.4 L149.6,721.5 L150.5,721.7 L151.1,722.0 L152.0,722.5 L152.5,722.9 L153.0,723.4 L153.5,724.0 L153.8,724.5 L154.0,725.0 L154.4,726.0 L154.5,726.8 L154.5,727.5 L154.5,728.1 L154.3,729.0 L154.0,730.0 L153.8,730.5 L153.4,731.0 L153.0,731.6 L152.5,732.0 L151.9,732.5 L151.0,733.0 L150.5,733.2 L149.5,733.5 L149.0,733.5 L149.0,733.5Z" stroke="#7a3a9c" stroke-width="1.2" fill="#7f3d9e" fill-opacity="0.4"/>
<path d="M149.5,732.5 L148.5,732.7 L147.5,732.7 L146.5,732.6 L146.0,732.4 L145.0,732.0 L144.5,731.7 L144.0,731.3 L143.5,730.8 L143.0,730.2 L142.6,729.5 L142.5,729.0 L142.3,728.0 L142.3,727.0 L142.5,726.2 L142.8,725.5 L143.1,725.0 L143.5,724.4 L144.0,723.9 L144.5,723.5 L145.3,723.0 L146.0,722.7 L146.6,722.5 L147.5,722.3 L148.5,722.3 L149.5,722.5 L150.0,722.6 L150.9,723.0 L151.5,723.4 L152.0,723.8 L152.5,724.4 L152.9,725.0 L153.1,725.5 L153.4,726.5 L153.5,727.0 L153.5,728.0 L153.4,728.5 L153.1,729.5 L152.9,730.0 L152.5,730.6 L152.0,731.1 L151.5,731.6 L150.8,732.0 L150.0,732.4 L149.5,732.5 L149.5,732.5Z" stroke="#7a3a9c" stroke-width="1.2" fill="#7f3d9e" fill-opacity="0.4"/>
<path d="M149.5,731.6 L148.5,731.8 L147.5,731.8 L146.5,731.7 L146.0,731.5 L145.0,731.0 L144.5,730.6 L144.0,730.0 L143.7,729.5 L143.4,729.0 L143.2,728.0 L143.3,727.0 L143.5,726.2 L143.8,725.5 L144.2,725.0 L144.7,724.5 L145.4,724.0 L146.0,723.7 L146.5,723.5 L147.5,723.3 L148.5,723.3 L149.5,723.5 L150.0,723.6 L150.6,724.0 L151.3,724.5 L151.7,725.0 L152.0,725.5 L152.4,726.5 L152.5,727.0 L152.5,728.0 L152.4,728.5 L152.0,729.5 L151.7,730.0 L151.3,730.5 L150.7,731.0 L150.0,731.4 L149.5,731.6 L149.5,731.6Z" stroke="#7a3a9c" stroke-width="1.2" fill="#7f3d9e" fill-opacity="0.4"/>
<path d="M149.5,730.5 L148.5,730.8 L147.5,730.9 L146.5,730.7 L146.0,730.5 L145.3,730.0 L144.9,729.5 L144.5,728.9 L144.2,728.0 L144.3,727.0 L144.5,726.4 L145.0,725.6 L145.5,725.1 L146.0,724.8 L146.5,724.5 L147.5,724.3 L148.5,724.3 L149.4,724.5 L150.0,724.8 L150.5,725.2 L151.0,725.9 L151.3,726.5 L151.5,727.5 L151.3,728.5 L151.0,729.2 L150.5,729.8 L150.0,730.2 L149.5,730.5 L149.5,730.5Z" stroke="#7a3a9c" stroke-width="1.2" fill="#7f3d9e" fill-opacity="0.4"/>
<path d="M148.5,729.6 L147.5,729.7 L146.7,729.5 L146.0,729.0 L145.7,728.5 L145.5,727.9 L145.5,727.4 L145.8,726.5 L146.3,726.0 L147.0,725.6 L147.5,725.5 L148.5,725.5 L149.0,725.7 L149.5,726.0 L150.0,726.8 L150.2,727.5 L150.0,728.3 L149.6,729.0 L149.0,729.4 L148.5,729.6 L148.5,729.6Z" stroke="#7a3a9c" stroke-width="1.2" fill="#7f3d9e" fill-opacity="0.4"/>
<path d="M164.0,720.0 L163.0,720.0 L162.0,720.1 L161.0,720.1 L160.0,720.0 L159.2,720.0 L158.5,720.0 L157.5,719.9 L156.5,719.7 L155.5,719.5 L155.0,719.4 L154.0,719.2 L153.4,719.0 L152.5,718.7 L152.0,718.5 L151.0,718.1 L150.5,717.8 L149.9,717.5 L149.1,717.0 L148.5,716.6 L148.0,716.2 L147.5,715.8 L147.0,715.3 L146.5,714.8 L146.0,714.3 L145.5,713.7 L145.0,713.0 L144.6,712.5 L144.3,712.0 L144.0,711.4 L143.6,710.5 L143.3,710.0 L143.0,709.0 L142.8,708.5 L142.6,707.5 L142.5,706.8 L142.4,706.0 L142.4,705.0 L142.4,704.0 L142.5,703.0 L142.5,702.5 L142.7,701.5 L143.0,700.6 L143.2,700.0 L143.5,699.2 L143.8,698.5 L144.1,698.0 L144.5,697.2 L144.9,696.5 L145.3,696.0 L145.7,695.5 L146.1,695.0 L146.5,694.5 L147.0,694.0 L147.5,693.5 L148.1,693.0 L148.7,692.5 L149.4,692.0 L150.0,691.6 L150.5,691.3 L151.0,691.0 L151.9,690.5 L152.5,690.2 L153.1,690.0 L154.0,689.6 L154.5,689.5 L155.5,689.2 L156.2,689.0 L157.0,688.8 L158.0,688.7 L159.0,688.5 L159.7,688.5 L160.5,688.5 L161.5,688.5 L162.0,688.5 L163.0,688.6 L164.0,688.7 L165.0,688.9 L165.5,689.0 L166.5,689.3 L167.2,689.5 L168.0,689.8 L168.6,690.0 L169.5,690.4 L170.0,690.6 L170.7,691.0 L171.5,691.5 L172.0,691.8 L172.5,692.2 L173.0,692.5 L173.6,693.0 L174.1,693.5 L174.6,694.0 L175.1,694.5 L175.6,695.0 L176.0,695.5 L176.5,696.2 L177.0,696.9 L177.3,697.5 L177.6,698.0 L178.0,698.8 L178.3,699.5 L178.5,700.0 L178.9,701.0 L179.0,701.5 L179.2,702.5 L179.4,703.5 L179.5,704.5 L179.5,705.0 L179.5,706.0 L179.5,706.5 L179.4,707.5 L179.3,708.5 L179.0,709.5 L178.9,710.0 L178.6,711.0 L178.4,711.5 L178.0,712.3 L177.6,713.0 L177.3,713.5 L177.0,714.0 L176.5,714.7 L176.0,715.3 L175.5,715.8 L175.0,716.3 L174.5,716.7 L174.0,717.1 L173.4,717.5 L172.6,718.0 L172.0,718.3 L171.5,718.5 L170.5,718.9 L170.0,719.1 L169.0,719.3 L168.3,719.5 L167.5,719.7 L166.5,719.8 L165.5,719.9 L164.5,720.0 L164.0,720.0 L164.0,720.0Z" stroke="#1010f0" stroke-width="1.4" fill="none"/>
<path d="M159.0,716.5 L158.5,716.5 L157.5,716.5 L156.5,716.4 L155.5,716.2 L154.7,716.0 L154.0,715.8 L153.2,715.5 L152.5,715.2 L152.0,714.9 L151.2,714.5 L150.5,714.0 L150.0,713.6 L149.5,713.2 L149.0,712.7 L148.5,712.2 L148.0,711.5 L147.6,711.0 L147.3,710.5 L147.0,709.9 L146.6,709.0 L146.4,708.5 L146.2,707.5 L146.0,706.6 L145.9,706.0 L145.9,705.0 L145.9,704.0 L146.0,703.4 L146.2,702.5 L146.5,701.5 L146.6,701.0 L147.0,700.2 L147.3,699.5 L147.6,699.0 L148.0,698.4 L148.5,697.8 L149.0,697.2 L149.5,696.7 L150.0,696.2 L150.5,695.8 L151.0,695.4 L151.6,695.0 L152.5,694.5 L153.0,694.2 L153.5,694.0 L154.5,693.6 L155.0,693.4 L156.0,693.1 L156.5,693.0 L157.5,692.8 L158.5,692.7 L159.5,692.6 L160.5,692.6 L161.5,692.7 L162.5,692.8 L163.5,693.0 L164.0,693.1 L165.0,693.3 L165.5,693.5 L166.5,693.9 L167.0,694.1 L167.9,694.5 L168.5,694.8 L169.0,695.1 L169.5,695.5 L170.2,696.0 L170.8,696.5 L171.4,697.0 L171.9,697.5 L172.3,698.0 L172.7,698.5 L173.1,699.0 L173.5,699.7 L174.0,700.5 L174.2,701.0 L174.5,701.7 L174.8,702.5 L175.0,703.5 L175.1,704.0 L175.2,705.0 L175.2,706.0 L175.1,707.0 L175.0,707.7 L174.8,708.5 L174.5,709.4 L174.2,710.0 L174.0,710.5 L173.5,711.3 L173.0,711.9 L172.5,712.5 L172.0,713.0 L171.5,713.4 L171.0,713.7 L170.5,714.0 L169.6,714.5 L169.0,714.8 L168.4,715.0 L167.5,715.3 L166.7,715.5 L166.0,715.7 L165.0,715.9 L164.2,716.0 L163.5,716.1 L162.5,716.3 L161.5,716.4 L160.5,716.4 L159.5,716.5 L159.0,716.5 L159.0,716.5Z" stroke="#1010f0" stroke-width="1.4" fill="none"/>
<path d="M160.0,714.0 L159.0,714.2 L158.0,714.2 L157.0,714.2 L156.0,714.1 L155.5,714.0 L154.5,713.7 L153.9,713.5 L153.0,713.1 L152.5,712.8 L152.0,712.5 L151.4,712.0 L150.8,711.5 L150.3,711.0 L149.9,710.5 L149.5,709.9 L149.0,709.0 L148.8,708.5 L148.5,707.8 L148.3,707.0 L148.1,706.0 L148.1,705.0 L148.2,704.0 L148.4,703.0 L148.5,702.5 L148.9,701.5 L149.1,701.0 L149.5,700.4 L150.0,699.6 L150.5,699.0 L151.0,698.5 L151.5,698.1 L152.0,697.7 L152.5,697.3 L153.1,697.0 L154.0,696.5 L154.5,696.3 L155.5,696.0 L156.0,695.9 L157.0,695.7 L158.0,695.6 L159.0,695.6 L160.0,695.6 L161.0,695.8 L162.0,696.0 L162.5,696.1 L163.5,696.4 L164.0,696.6 L164.8,697.0 L165.5,697.4 L166.0,697.7 L166.5,698.0 L167.2,698.5 L167.8,699.0 L168.3,699.5 L168.8,700.0 L169.2,700.5 L169.5,701.0 L170.0,701.8 L170.3,702.5 L170.5,703.0 L170.8,704.0 L170.9,705.0 L170.9,706.0 L170.7,707.0 L170.5,707.6 L170.1,708.5 L169.8,709.0 L169.4,709.5 L168.9,710.0 L168.4,710.5 L167.7,711.0 L167.0,711.5 L166.5,711.8 L166.0,712.0 L165.0,712.5 L164.5,712.7 L163.8,713.0 L163.0,713.3 L162.3,713.5 L161.5,713.7 L160.5,713.9 L160.0,714.0 L160.0,714.0Z" stroke="#1010f0" stroke-width="1.4" fill="none"/>
<path d="M158.5,712.5 L157.5,712.6 L156.5,712.5 L156.0,712.5 L155.0,712.2 L154.4,712.0 L153.5,711.6 L153.0,711.3 L152.5,710.9 L152.0,710.5 L151.5,710.0 L151.0,709.4 L150.5,708.5 L150.2,708.0 L150.0,707.3 L149.8,706.5 L149.7,705.5 L149.7,704.5 L149.9,703.5 L150.0,703.0 L150.5,702.0 L150.7,701.5 L151.0,701.0 L151.5,700.4 L152.0,699.9 L152.5,699.4 L153.1,699.0 L154.0,698.5 L154.5,698.2 L155.2,698.0 L156.0,697.8 L157.0,697.6 L158.0,697.6 L159.0,697.6 L160.0,697.8 L160.8,698.0 L161.5,698.2 L162.1,698.5 L163.0,699.0 L163.5,699.3 L164.0,699.7 L164.5,700.1 L165.0,700.6 L165.5,701.2 L166.0,701.9 L166.3,702.5 L166.6,703.0 L166.9,704.0 L167.0,705.0 L166.9,706.0 L166.6,707.0 L166.3,707.5 L166.0,708.1 L165.5,708.8 L165.0,709.3 L164.5,709.8 L164.0,710.2 L163.5,710.6 L162.9,711.0 L162.0,711.5 L161.5,711.7 L160.8,712.0 L160.0,712.2 L159.0,712.5 L158.5,712.5 L158.5,712.5Z" stroke="#1010f0" stroke-width="1.4" fill="none"/>
<path d="M158.0,711.1 L157.0,711.1 L156.2,711.0 L155.5,710.9 L154.5,710.5 L154.0,710.2 L153.5,709.9 L153.0,709.5 L152.5,708.9 L152.0,708.2 L151.6,707.5 L151.4,707.0 L151.2,706.0 L151.2,705.0 L151.3,704.0 L151.5,703.3 L151.9,702.5 L152.2,702.0 L152.6,701.5 L153.0,701.0 L153.6,700.5 L154.4,700.0 L155.0,699.7 L155.7,699.5 L156.5,699.3 L157.5,699.3 L158.5,699.3 L159.3,699.5 L160.0,699.7 L160.7,700.0 L161.5,700.5 L162.0,700.9 L162.5,701.4 L163.0,702.0 L163.4,702.5 L163.6,703.0 L164.0,704.0 L164.0,704.5 L164.1,705.5 L164.0,706.0 L163.7,707.0 L163.4,707.5 L163.0,708.2 L162.5,708.8 L162.0,709.3 L161.5,709.7 L161.0,710.0 L160.1,710.5 L159.5,710.7 L158.5,711.0 L158.0,711.1 L158.0,711.1Z" stroke="#1010f0" stroke-width="1.4" fill="none"/>
<path d="M158.5,709.5 L157.5,709.7 L156.5,709.7 L155.6,709.5 L155.0,709.2 L154.5,709.0 L153.9,708.5 L153.5,708.0 L153.0,707.3 L152.7,706.5 L152.5,705.5 L152.6,704.5 L152.9,703.5 L153.2,703.0 L153.5,702.5 L154.0,702.0 L154.6,701.5 L155.5,701.1 L156.0,700.9 L157.0,700.7 L158.0,700.8 L158.9,701.0 L159.5,701.2 L160.0,701.5 L160.6,702.0 L161.1,702.5 L161.5,703.1 L161.9,704.0 L162.0,704.5 L162.1,705.5 L162.0,706.0 L161.7,707.0 L161.4,707.5 L161.0,708.0 L160.5,708.5 L159.8,709.0 L159.0,709.4 L158.5,709.5 L158.5,709.5Z" stroke="#1010f0" stroke-width="1.4" fill="none"/>
<path d="M158.0,708.1 L157.0,708.3 L156.0,708.1 L155.5,707.9 L155.0,707.5 L154.5,707.0 L154.1,706.0 L154.0,705.5 L154.0,704.9 L154.3,704.0 L154.6,703.5 L155.1,703.0 L155.9,702.5 L156.5,702.3 L157.5,702.3 L158.3,702.5 L159.0,702.9 L159.5,703.3 L160.0,704.0 L160.2,704.5 L160.3,705.5 L160.0,706.5 L159.7,707.0 L159.2,707.5 L158.5,707.9 L158.0,708.1 L158.0,708.1Z" stroke="#1010f0" stroke-width="1.4" fill="none"/>
<path d="M157.5,706.7 L156.5,706.7 L156.0,706.4 L155.5,705.6 L155.5,705.1 L155.7,704.5 L156.3,704.0 L157.0,703.8 L157.8,704.0 L158.4,704.5 L158.6,705.0 L158.5,705.8 L158.0,706.5 L157.5,706.7 L157.5,706.7Z" stroke="#1010f0" stroke-width="1.4" fill="none"/>
<rect x="89.0" y="895.5" width="8" height="8" fill="#c8c8c8" stroke="#7f7f7f" stroke-width="0.9"/>
<text x="102.0" y="895.0" font-size="18" fill="#383838" font-weight="normal" font-style="italic" text-anchor="start" >Chr.</text>
<rect x="385.3" y="895.5" width="8" height="8" fill="#c8c8c8" stroke="#7f7f7f" stroke-width="0.9"/>
<text x="369.0" y="890.6" font-size="18" fill="#383838" font-weight="normal" font-style="italic" text-anchor="start" >Glx.</text>
<rect x="399.7" y="895.5" width="8" height="8" fill="#c8c8c8" stroke="#7f7f7f" stroke-width="0.9"/>
<text x="407.3" y="890.6" font-size="18" fill="#383838" font-weight="normal" font-style="italic" text-anchor="start" >Hc.</text>
<rect x="467.7" y="895.5" width="8" height="8" fill="#c8c8c8" stroke="#7f7f7f" stroke-width="0.9"/>
<text x="471.7" y="890.6" font-size="18" fill="#383838" font-weight="normal" font-style="italic" text-anchor="start" >Spl.</text>
<polygon points="625.0,895.0 617.0,899.5 625.0,904.0" fill="#c8c8c8" stroke="#7f7f7f" stroke-width="0.9"/>
<text x="587.5" y="890.6" font-size="18" fill="#383838" font-weight="normal" font-style="italic" text-anchor="start" >Crn.</text>
<polygon points="428.2,760.7 420.2,765.2 428.2,769.7" fill="#c8c8c8" stroke="#7f7f7f" stroke-width="0.9"/>
<text x="430.8" y="764.0" font-size="18" fill="#383838" font-weight="normal" font-style="italic" text-anchor="start" >Mul.</text>
<polygon points="475.5,792.7 467.5,797.2 475.5,801.7" fill="#c8c8c8" stroke="#7f7f7f" stroke-width="0.9"/>
<text x="478.0" y="791.6" font-size="18" fill="#383838" font-weight="normal" font-style="italic" text-anchor="start" >And.</text>
<polygon points="176.50,673.00 181.20,679.30 176.50,685.60 171.80,679.30" fill="#3b7bd0" stroke="#1d348c" stroke-width="0.8"/>
<polygon points="190.80,677.50 195.50,683.80 190.80,690.10 186.10,683.80" fill="#3b7bd0" stroke="#1d348c" stroke-width="0.8"/>
<polygon points="196.00,716.50 200.70,722.80 196.00,729.10 191.30,722.80" fill="#3b7bd0" stroke="#1d348c" stroke-width="0.8"/>
<polygon points="183.30,722.50 188.00,728.80 183.30,735.10 178.60,728.80" fill="#3b7bd0" stroke="#1d348c" stroke-width="0.8"/>
<polygon points="179.30,706.80 188.80,712.30 179.30,717.80" fill="#82da2c" stroke="#3f6e1c" stroke-width="0.8"/>
<polygon points="228.60,680.50 219.10,686.00 228.60,691.50" fill="#82da2c" stroke="#3f6e1c" stroke-width="0.8"/>
<polygon points="243.60,682.00 234.10,687.50 243.60,693.00" fill="#82da2c" stroke="#3f6e1c" stroke-width="0.8"/>
<polygon points="260.10,688.80 250.60,694.30 260.10,699.80" fill="#82da2c" stroke="#3f6e1c" stroke-width="0.8"/>
<polygon points="229.30,700.00 219.80,705.50 229.30,711.00" fill="#82da2c" stroke="#3f6e1c" stroke-width="0.8"/>
<polygon points="219.30,705.20 224.00,711.50 219.30,717.80 214.60,711.50" fill="#3b7bd0" stroke="#1d348c" stroke-width="0.8"/>
<polygon points="212.30,724.60 223.30,724.60 217.80,715.10" fill="#82da2c" stroke="#3f6e1c" stroke-width="0.8"/>
<polygon points="226.00,718.00 230.70,724.30 226.00,730.60 221.30,724.30" fill="#3b7bd0" stroke="#1d348c" stroke-width="0.8"/>
<polygon points="231.10,723.00 242.10,723.00 236.60,713.50" fill="#82da2c" stroke="#3f6e1c" stroke-width="0.8"/>
<polygon points="236.30,726.80 247.30,726.80 241.80,717.30" fill="#82da2c" stroke="#3f6e1c" stroke-width="0.8"/>
<polygon points="238.60,708.00 249.60,708.00 244.10,698.50" fill="#82da2c" stroke="#3f6e1c" stroke-width="0.8"/>
<polygon points="236.30,714.80 247.30,714.80 241.80,705.30" fill="#82da2c" stroke="#3f6e1c" stroke-width="0.8"/>
<polygon points="244.60,715.50 255.60,715.50 250.10,706.00" fill="#82da2c" stroke="#3f6e1c" stroke-width="0.8"/>
<polygon points="248.60,694.70 253.30,701.00 248.60,707.30 243.90,701.00" fill="#3b7bd0" stroke="#1d348c" stroke-width="0.8"/>
<polygon points="247.10,714.30 251.80,720.60 247.10,726.90 242.40,720.60" fill="#3b7bd0" stroke="#1d348c" stroke-width="0.8"/>
<polygon points="271.80,695.10 273.45,699.33 277.98,699.59 274.46,702.47 275.62,706.86 271.80,704.40 267.98,706.86 269.14,702.47 265.62,699.59 270.15,699.33" fill="#f29a33" stroke="#c46b1b" stroke-width="0.8"/>
<polygon points="279.70,694.50 281.35,698.73 285.88,698.99 282.36,701.87 283.52,706.26 279.70,703.80 275.88,706.26 277.04,701.87 273.52,698.99 278.05,698.73" fill="#f29a33" stroke="#c46b1b" stroke-width="0.8"/>
<polygon points="260.80,695.60 262.45,699.83 266.98,700.09 263.46,702.97 264.62,707.36 260.80,704.90 256.98,707.36 258.14,702.97 254.62,700.09 259.15,699.83" fill="#f29a33" stroke="#c46b1b" stroke-width="0.8"/>
<polygon points="255.20,704.90 264.20,704.90 264.20,713.90 255.20,713.90" fill="#f29a33" stroke="#c46b1b" stroke-width="0.8"/>
<polygon points="266.30,706.00 275.30,706.00 275.30,715.00 266.30,715.00" fill="#f29a33" stroke="#c46b1b" stroke-width="0.8"/>
<polygon points="253.10,702.50 262.10,702.50 262.10,711.50 253.10,711.50" fill="#f29a33" stroke="#c46b1b" stroke-width="0.8"/>
<polygon points="272.90,711.90 274.55,716.13 279.08,716.39 275.56,719.27 276.72,723.66 272.90,721.20 269.08,723.66 270.24,719.27 266.72,716.39 271.25,716.13" fill="#f29a33" stroke="#c46b1b" stroke-width="0.8"/>
<polygon points="257.90,714.40 268.90,714.40 263.40,723.90" fill="#f29a33" stroke="#c46b1b" stroke-width="0.8"/>
<polygon points="250.00,721.70 261.00,721.70 255.50,731.20" fill="#f29a33" stroke="#c46b1b" stroke-width="0.8"/>
<polygon points="249.10,722.60 260.10,722.60 254.60,732.10" fill="#f29a33" stroke="#c46b1b" stroke-width="0.8"/>
<path d="M286.80,714.70L296.80,714.70M291.80,709.70L291.80,719.70" stroke="#b4471b" stroke-width="1.6" fill="none"/>
<path d="M289.40,716.30L299.40,716.30M294.40,711.30L294.40,721.30" stroke="#b4471b" stroke-width="1.6" fill="none"/>
<path d="M285.20,718.40L295.20,718.40M290.20,713.40L290.20,723.40" stroke="#b4471b" stroke-width="1.6" fill="none"/>
<polygon points="285.70,718.10 294.70,718.10 294.70,727.10 285.70,727.10" fill="#f29a33" stroke="#c46b1b" stroke-width="0.8"/>
<polygon points="285.00,715.50 286.65,719.73 291.18,719.99 287.66,722.87 288.82,727.26 285.00,724.80 281.18,727.26 282.34,722.87 278.82,719.99 283.35,719.73" fill="#f29a33" stroke="#c46b1b" stroke-width="0.8"/>
<polygon points="288.00,723.50 289.65,727.73 294.18,727.99 290.66,730.87 291.82,735.26 288.00,732.80 284.18,735.26 285.34,730.87 281.82,727.99 286.35,727.73" fill="#f29a33" stroke="#c46b1b" stroke-width="0.8"/>
<circle cx="318.90" cy="720.50" r="4.70" fill="#f29a33" stroke="#c46b1b" stroke-width="0.8"/>
<circle cx="312.60" cy="728.40" r="4.70" fill="#f29a33" stroke="#c46b1b" stroke-width="0.8"/>
<path d="M268.80,737.30L278.00,737.30M273.40,732.70L273.40,741.90M270.15,734.05L276.65,740.55M270.15,740.55L276.65,734.05" stroke="#8c3513" stroke-width="1.5" fill="none"/>
<path d="M264.60,738.30L273.80,738.30M269.20,733.70L269.20,742.90M265.95,735.05L272.45,741.55M265.95,741.55L272.45,735.05" stroke="#8c3513" stroke-width="1.5" fill="none"/>
<path d="M262.20,735.60L269.80,743.20M262.20,743.20L269.80,735.60" stroke="#b4471b" stroke-width="1.5" fill="none"/>
<polygon points="271.00,742.80 282.00,742.80 276.50,752.30" fill="#f29a33" stroke="#c46b1b" stroke-width="0.8"/>
<polygon points="252.30,764.20 263.30,764.20 257.80,773.70" fill="#f29a33" stroke="#c46b1b" stroke-width="0.8"/>
<polygon points="281.80,722.30 283.65,725.70 287.52,725.60 285.50,728.90 287.52,732.20 283.65,732.10 281.80,735.50 279.95,732.10 276.08,732.20 278.10,728.90 276.08,725.60 279.95,725.70" fill="#ff2010" stroke="#a8150c" stroke-width="0.8"/>
<polygon points="293.30,731.70 295.15,735.10 299.02,735.00 297.00,738.30 299.02,741.60 295.15,741.50 293.30,744.90 291.45,741.50 287.58,741.60 289.60,738.30 287.58,735.00 291.45,735.10" fill="#ff2010" stroke="#a8150c" stroke-width="0.8"/>
<polygon points="294.20,733.40 296.05,736.80 299.92,736.70 297.90,740.00 299.92,743.30 296.05,743.20 294.20,746.60 292.35,743.20 288.48,743.30 290.50,740.00 288.48,736.70 292.35,736.80" fill="#ff2010" stroke="#a8150c" stroke-width="0.8"/>
<polygon points="304.90,736.00 306.75,739.40 310.62,739.30 308.60,742.60 310.62,745.90 306.75,745.80 304.90,749.20 303.05,745.80 299.18,745.90 301.20,742.60 299.18,739.30 303.05,739.40" fill="#ff2010" stroke="#a8150c" stroke-width="0.8"/>
<polygon points="296.30,742.80 298.15,746.20 302.02,746.10 300.00,749.40 302.02,752.70 298.15,752.60 296.30,756.00 294.45,752.60 290.58,752.70 292.60,749.40 290.58,746.10 294.45,746.20" fill="#ff2010" stroke="#a8150c" stroke-width="0.8"/>
<polygon points="305.80,739.60 307.65,743.00 311.52,742.90 309.50,746.20 311.52,749.50 307.65,749.40 305.80,752.80 303.95,749.40 300.08,749.50 302.10,746.20 300.08,742.90 303.95,743.00" fill="#ff2010" stroke="#a8150c" stroke-width="0.8"/>
<polygon points="306.50,745.40 315.50,745.40 315.50,754.40 306.50,754.40" fill="#f29a33" stroke="#c46b1b" stroke-width="0.8"/>
<path d="M313.50,743.50L321.10,751.10M313.50,751.10L321.10,743.50" stroke="#b4471b" stroke-width="1.5" fill="none"/>
<polygon points="315.80,754.40 317.65,757.80 321.52,757.70 319.50,761.00 321.52,764.30 317.65,764.20 315.80,767.60 313.95,764.20 310.08,764.30 312.10,761.00 310.08,757.70 313.95,757.80" fill="#ff2010" stroke="#a8150c" stroke-width="0.8"/>
<polygon points="322.30,753.80 331.30,753.80 331.30,762.80 322.30,762.80" fill="#f29a33" stroke="#c46b1b" stroke-width="0.8"/>
<polygon points="328.60,756.50 337.60,756.50 337.60,765.50 328.60,765.50" fill="#f29a33" stroke="#c46b1b" stroke-width="0.8"/>
<polygon points="327.30,756.50 329.15,759.90 333.02,759.80 331.00,763.10 333.02,766.40 329.15,766.30 327.30,769.70 325.45,766.30 321.58,766.40 323.60,763.10 321.58,759.80 325.45,759.90" fill="#ff2010" stroke="#a8150c" stroke-width="0.8"/>
<polygon points="340.70,750.20 349.70,750.20 349.70,759.20 340.70,759.20" fill="#f29a33" stroke="#c46b1b" stroke-width="0.8"/>
<path d="M288.30,770.80L295.90,778.40M288.30,778.40L295.90,770.80" stroke="#b4471b" stroke-width="1.5" fill="none"/>
<path d="M286.50,771.30L294.10,778.90M286.50,778.90L294.10,771.30" stroke="#b4471b" stroke-width="1.5" fill="none"/>
<path d="M283.80,753.80L291.40,761.40M283.80,761.40L291.40,753.80" stroke="#b4471b" stroke-width="1.5" fill="none"/>
<polygon points="286.00,726.40 287.85,729.80 291.72,729.70 289.70,733.00 291.72,736.30 287.85,736.20 286.00,739.60 284.15,736.20 280.28,736.30 282.30,733.00 280.28,729.70 284.15,729.80" fill="#ff2010" stroke="#a8150c" stroke-width="0.8"/>
<polygon points="290.00,738.40 291.85,741.80 295.72,741.70 293.70,745.00 295.72,748.30 291.85,748.20 290.00,751.60 288.15,748.20 284.28,748.30 286.30,745.00 284.28,741.70 288.15,741.80" fill="#ff2010" stroke="#a8150c" stroke-width="0.8"/>
<polygon points="299.00,745.40 300.85,748.80 304.72,748.70 302.70,752.00 304.72,755.30 300.85,755.20 299.00,758.60 297.15,755.20 293.28,755.30 295.30,752.00 293.28,748.70 297.15,748.80" fill="#ff2010" stroke="#a8150c" stroke-width="0.8"/>
<path d="M287.50,720.00L297.50,720.00M292.50,715.00L292.50,725.00" stroke="#b4471b" stroke-width="1.6" fill="none"/>
<line x1="93.5" y1="615.0" x2="590.3" y2="899.5" stroke="#000" stroke-width="3" stroke-dasharray="12,11.5"/>
<polygon points="281.1,709.7 273.1,714.2 281.1,718.7" fill="#c8c8c8" stroke="#7f7f7f" stroke-width="0.9"/>
<text x="285.5" y="709.4" font-size="18" fill="#383838" font-weight="normal" font-style="italic" text-anchor="start" >Sek.</text>
<polygon points="267.4,723.3 259.4,727.8 267.4,732.3" fill="#c8c8c8" stroke="#7f7f7f" stroke-width="0.9"/>
<text x="233.3" y="742.9" font-size="18" fill="#383838" font-weight="normal" font-style="italic" text-anchor="start" >Crd.</text>
<path d="M297.3,727.2L305.9,735.8M297.3,735.8L305.9,727.2" stroke="#454545" stroke-width="2.4"/>
<text x="308.9" y="735.2" font-size="18" fill="#383838" font-weight="normal" font-style="italic" text-anchor="start" >Kln.</text>
<path d="M179.0,700.0L187.6,708.6M179.0,708.6L187.6,700.0" stroke="#454545" stroke-width="2.4"/>
<text x="191.5" y="704.8" font-size="18" fill="#383838" font-weight="normal" font-style="italic" text-anchor="start" >Ilt.</text>
<path d="M187.1,737.4L195.7,746.0M187.1,746.0L195.7,737.4" stroke="#454545" stroke-width="2.4"/>
<text x="197.0" y="755.0" font-size="18" fill="#383838" font-weight="normal" font-style="italic" text-anchor="start" >Mnt.</text>
<path d="M144.1,759.5L152.7,768.1M144.1,768.1L152.7,759.5" stroke="#454545" stroke-width="2.4"/>
<path d="M142.7,765.0L151.3,773.6M142.7,773.6L151.3,765.0" stroke="#454545" stroke-width="2.4"/>
<text x="150.0" y="782.5" font-size="18" fill="#383838" font-weight="normal" font-style="italic" text-anchor="start" >Sap.</text>
<line x1="129.60" y1="749.20" x2="162.00" y2="749.20" stroke="#111" stroke-width="1.3" />
<rect x="141.5" y="744.4" width="10" height="10" fill="#d8c4f4" stroke="#8a7aa8" stroke-width="0.9"/>
<text x="157.3" y="761.0" font-size="18" fill="#383838" font-weight="normal" font-style="italic" text-anchor="start" >Nnt.</text>
<rect x="207" y="805.4" width="185" height="38.5" fill="#fff" stroke="#222" stroke-width="1.3"/>
<text x="214.6" y="820.9" font-size="14.4" fill="#222">SiO<tspan font-size="11.5" dy="3">2</tspan><tspan dy="-3"> = 79.04 - 0.84 * Al</tspan><tspan font-size="11" dy="3">2</tspan><tspan dy="-3">O</tspan><tspan font-size="11" dy="3">3</tspan></text>
<text x="214.6" y="837.6" font-size="14.4" fill="#222">R<tspan font-size="11" dy="-5">2</tspan><tspan dy="5"> = 63%, p = &lt;0.05</tspan></text>
<rect x="434.6" y="513.6" width="229.8" height="229.9" fill="#fff" stroke="#6a6a6a" stroke-width="1"/>
<ellipse cx="451.2" cy="524.5" rx="13.5" ry="5.2" fill="none" stroke="#a8a8a8" stroke-width="1.8"/>
<ellipse cx="451.2" cy="524.5" rx="9.5" ry="3.7" fill="none" stroke="#a8a8a8" stroke-width="1.8"/>
<ellipse cx="451.2" cy="524.5" rx="5.5" ry="2.2" fill="none" stroke="#a8a8a8" stroke-width="1.8"/>
<line x1="449.2" y1="524.5" x2="453.2" y2="524.5" stroke="#a8a8a8" stroke-width="1.2"/>
<ellipse cx="451.2" cy="541.7" rx="13.5" ry="5.2" fill="none" stroke="#8a35a8" stroke-width="1.8"/>
<ellipse cx="451.2" cy="541.7" rx="9.5" ry="3.7" fill="none" stroke="#8a35a8" stroke-width="1.8"/>
<ellipse cx="451.2" cy="541.7" rx="5.5" ry="2.2" fill="none" stroke="#8a35a8" stroke-width="1.8"/>
<line x1="449.2" y1="541.7" x2="453.2" y2="541.7" stroke="#8a35a8" stroke-width="1.2"/>
<ellipse cx="451.2" cy="559" rx="13.5" ry="5.2" fill="none" stroke="#1010f0" stroke-width="1.8"/>
<ellipse cx="451.2" cy="559" rx="9.5" ry="3.7" fill="none" stroke="#1010f0" stroke-width="1.8"/>
<ellipse cx="451.2" cy="559" rx="5.5" ry="2.2" fill="none" stroke="#1010f0" stroke-width="1.8"/>
<line x1="449.2" y1="559" x2="453.2" y2="559" stroke="#1010f0" stroke-width="1.2"/>
<text x="466.8" y="530.3" font-size="10.9" fill="#333">Jezero crater<tspan font-size="8.6" dy="-5">1</tspan><tspan dy="5"> (n=943)</tspan></text>
<text x="466.8" y="547.5" font-size="10.9" fill="#333">Bradbury<tspan font-size="8.6" dy="-5">2</tspan><tspan dy="5"> Gale Crater (n = 1222)</tspan></text>
<text x="466.8" y="565" font-size="10.9" fill="#333">Lower Mt Sharp<tspan font-size="8.6" dy="-5">2</tspan><tspan dy="5"> Gale Crater (n = 4057)</tspan></text>
<polygon points="451.30,570.40 453.09,573.69 456.84,573.60 454.89,576.80 456.84,580.00 453.09,579.91 451.30,583.20 449.51,579.91 445.76,580.00 447.71,576.80 445.76,573.60 449.51,573.69" fill="#ff2010" stroke="#a8150c" stroke-width="0.8"/>
<text x="466.8" y="581.1999999999999" font-size="10.9" fill="#333">Dolgoi Island <tspan fill="#e8261b">spinel</tspan></text>
<polygon points="446.94,586.24 455.67,586.24 455.67,594.97 446.94,594.97" fill="#f29a33" stroke="#c46b1b" stroke-width="0.8"/>
<text x="466.8" y="595.0" font-size="10.9" fill="#333">Unga Island <tspan fill="#b5521e">low hydration</tspan></text>
<polygon points="445.97,600.32 456.63,600.32 451.30,609.54" fill="#f29a33" stroke="#c46b1b" stroke-width="0.8"/>
<text x="466.8" y="608.6" font-size="10.9" fill="#333">AEGIS 0701A <tspan fill="#b5521e">low hydration</tspan></text>
<circle cx="451.30" cy="618.40" r="4.56" fill="#f29a33" stroke="#c46b1b" stroke-width="0.8"/>
<text x="466.8" y="622.8" font-size="10.9" fill="#333">Barrier Range <tspan fill="#b5521e">low hydration</tspan></text>
<polygon points="451.30,625.10 452.90,629.20 457.30,629.45 453.88,632.24 455.01,636.50 451.30,634.12 447.59,636.50 448.72,632.24 445.30,629.45 449.70,629.20" fill="#f29a33" stroke="#c46b1b" stroke-width="0.8"/>
<text x="466.8" y="635.8" font-size="10.9" fill="#333">Ouzinkie <tspan fill="#b5521e">low hydration</tspan></text>
<path d="M447.61,642.91L454.99,650.29M447.61,650.29L454.99,642.91" stroke="#b4471b" stroke-width="1.5" fill="none"/>
<text x="466.8" y="651.0" font-size="10.9" fill="#333">Finch Lake 782 <tspan fill="#b5521e">low hydration</tspan></text>
<path d="M446.45,661.00L456.15,661.00M451.30,656.15L451.30,665.85" stroke="#b4471b" stroke-width="1.6" fill="none"/>
<text x="466.8" y="665.4" font-size="10.9" fill="#333">Skeleton Gulch <tspan fill="#b5521e">low hydration</tspan></text>
<path d="M446.84,677.00L455.76,677.00M451.30,672.54L451.30,681.46M448.15,673.85L454.45,680.15M448.15,680.15L454.45,673.85" stroke="#8c3513" stroke-width="1.5" fill="none"/>
<text x="466.8" y="681.4" font-size="10.9" fill="#333">Lake Clark <tspan fill="#b5521e">low hydration</tspan></text>
<polygon points="447.42,686.66 456.63,692.00 447.42,697.34" fill="#82da2c" stroke="#3f6e1c" stroke-width="0.8"/>
<text x="466.8" y="696.4" font-size="10.9" fill="#333">Ikatan Bay <tspan fill="#8fd92e">hydrated</tspan></text>
<polygon points="445.97,710.98 456.63,710.98 451.30,701.76" fill="#82da2c" stroke="#3f6e1c" stroke-width="0.8"/>
<text x="466.8" y="711.5" font-size="10.9" fill="#333">Rainbow Curve <tspan fill="#8fd92e">hydrated</tspan></text>
<polygon points="455.18,715.37 445.97,720.70 455.18,726.04" fill="#82da2c" stroke="#3f6e1c" stroke-width="0.8"/>
<text x="466.8" y="725.1" font-size="10.9" fill="#333">Dean Mountain <tspan fill="#8fd92e">hydrated</tspan></text>
<polygon points="451.30,729.39 455.86,735.50 451.30,741.61 446.74,735.50" fill="#3b7bd0" stroke="#1d348c" stroke-width="0.8"/>
<text x="466.8" y="739.9" font-size="10.9" fill="#333">Chignik <tspan fill="#3a8ad6">kaolinite</tspan></text>
<text x="2.62" y="1001.20" font-size="44.5" fill="#d9261c" font-weight="bold" font-style="normal" textLength="29.99" lengthAdjust="spacingAndGlyphs" >C</text>
<path d="M98.5,982.9 V1331.5 H639.6" stroke="#5c5c5c" stroke-width="1.2" fill="none"/>
<path d="M98.5,1281.7h5.5 M98.5,1231.9h5.5 M98.5,1182.1h5.5 M98.5,1132.3h5.5 M98.5,1082.5h5.5 M98.5,1032.7h5.5 M98.5,982.9h5.5 M206.7,1331.5v-5.5 M314.9,1331.5v-5.5 M423.2,1331.5v-5.5 M531.4,1331.5v-5.5 " stroke="#5c5c5c" stroke-width="1.1"/>
<text x="91.0" y="1340.3" font-size="23" fill="#222" font-weight="normal" font-style="normal" text-anchor="end" >0</text>
<text x="91.0" y="1290.5" font-size="23" fill="#222" font-weight="normal" font-style="normal" text-anchor="end" >10</text>
<text x="91.0" y="1240.7" font-size="23" fill="#222" font-weight="normal" font-style="normal" text-anchor="end" >20</text>
<text x="91.0" y="1190.9" font-size="23" fill="#222" font-weight="normal" font-style="normal" text-anchor="end" >30</text>
<text x="91.0" y="1141.1" font-size="23" fill="#222" font-weight="normal" font-style="normal" text-anchor="end" >40</text>
<text x="91.0" y="1091.3" font-size="23" fill="#222" font-weight="normal" font-style="normal" text-anchor="end" >50</text>
<text x="91.0" y="1041.5" font-size="23" fill="#222" font-weight="normal" font-style="normal" text-anchor="end" >60</text>
<text x="91.0" y="991.7" font-size="23" fill="#222" font-weight="normal" font-style="normal" text-anchor="end" >70</text>
<text x="98.5" y="1362.7" font-size="23" fill="#222" font-weight="normal" font-style="normal" text-anchor="middle" >0</text>
<text x="206.7" y="1362.7" font-size="23" fill="#222" font-weight="normal" font-style="normal" text-anchor="middle" >20</text>
<text x="314.9" y="1362.7" font-size="23" fill="#222" font-weight="normal" font-style="normal" text-anchor="middle" >40</text>
<text x="423.2" y="1362.7" font-size="23" fill="#222" font-weight="normal" font-style="normal" text-anchor="middle" >60</text>
<text x="531.4" y="1362.7" font-size="23" fill="#222" font-weight="normal" font-style="normal" text-anchor="middle" >80</text>
<text x="639.6" y="1362.7" font-size="23" fill="#222" font-weight="normal" font-style="normal" text-anchor="middle" >100</text>
<text x="288.74" y="1398.20" font-size="26.5" fill="#262626" font-weight="bold" font-style="normal" textLength="26.74" lengthAdjust="spacingAndGlyphs" >Al</text>
<text x="316.25" y="1411.60" font-size="21.5" fill="#262626" font-weight="bold" font-style="normal" textLength="11.30" lengthAdjust="spacingAndGlyphs" >2</text>
<text x="328.54" y="1398.20" font-size="26.5" fill="#262626" font-weight="bold" font-style="normal" textLength="19.81" lengthAdjust="spacingAndGlyphs" >O</text>
<text x="350.72" y="1411.80" font-size="21.5" fill="#262626" font-weight="bold" font-style="normal" textLength="11.07" lengthAdjust="spacingAndGlyphs" >3</text>
<text x="370.15" y="1398.20" font-size="27" fill="#262626" font-weight="bold" font-style="normal" textLength="79.33" lengthAdjust="spacingAndGlyphs" >(wt %)</text>
<text x="-1.90" y="0" font-size="28" fill="#262626" font-weight="bold" font-style="normal" textLength="149.64" lengthAdjust="spacingAndGlyphs" transform="translate(43.80,1279.40) rotate(-90)">MgO + FeO</text>
<text x="-0.21" y="0" font-size="21.5" fill="#262626" font-weight="bold" font-style="normal" textLength="12.94" lengthAdjust="spacingAndGlyphs" transform="translate(56.40,1129.40) rotate(-90)">T</text>
<text x="-1.41" y="0" font-size="28" fill="#262626" font-weight="bold" font-style="normal" textLength="74.94" lengthAdjust="spacingAndGlyphs" transform="translate(43.90,1106.30) rotate(-90)">(wt%)</text>
<circle cx="98.5" cy="1331.5" r="3.6" fill="#e6e6e6" stroke="#808080" stroke-width="1"/>
<text x="103.5" y="1325.5" font-size="17.5" font-style="italic" fill="#444">SiO<tspan font-size="14" font-style="normal" dy="0">2</tspan></text>
<path d="M100.8,1054.7 C101.6,1053.0 103.8,1048.3 105.5,1044.7 C107.2,1041.1 109.1,1036.8 110.8,1033.1 C112.5,1029.4 114.1,1024.8 115.5,1022.6 C116.9,1020.4 118.1,1019.6 119.2,1020.0 C120.3,1020.4 121.3,1022.3 122.3,1024.7 C123.3,1027.1 124.2,1030.9 125.0,1034.2 C125.8,1037.5 126.5,1040.9 127.1,1044.7 C127.7,1048.5 128.1,1052.9 128.6,1057.3 C129.1,1061.7 129.5,1066.7 130.2,1071.0 C130.9,1075.3 131.9,1079.8 133.0,1083.0 C134.1,1086.2 135.8,1087.5 137.0,1090.0 C138.2,1092.5 139.1,1094.7 140.5,1098.0 C141.9,1101.3 143.6,1107.0 145.3,1110.0 C147.0,1113.0 148.9,1113.9 150.5,1116.0 C152.1,1118.1 153.8,1120.3 155.0,1122.8 C156.2,1125.3 157.1,1128.1 157.7,1131.0 C158.3,1133.9 158.4,1136.6 158.8,1140.0 C159.2,1143.4 159.8,1147.5 160.3,1151.3 C160.8,1155.1 161.3,1158.1 161.8,1162.6 C162.3,1167.0 162.9,1172.6 163.5,1178.0 C164.1,1183.4 165.0,1189.3 165.5,1195.0 C166.0,1200.7 166.6,1207.2 166.7,1212.0 C166.8,1216.8 166.7,1220.3 166.2,1224.0 C165.7,1227.7 164.6,1231.2 163.5,1234.0 C162.4,1236.8 160.9,1239.2 159.5,1241.0 C158.1,1242.8 157.2,1244.9 155.3,1244.9 C153.4,1244.9 150.4,1242.8 148.0,1241.0 C145.6,1239.2 143.1,1236.8 141.0,1234.0 C138.9,1231.2 137.3,1226.8 135.5,1224.0 C133.7,1221.2 132.2,1219.1 130.0,1217.0 C127.8,1214.9 124.1,1213.3 122.0,1211.5 C119.9,1209.7 118.6,1209.0 117.5,1206.3 C116.4,1203.5 115.9,1198.8 115.3,1195.0 C114.7,1191.2 114.0,1187.5 113.8,1183.8 C113.6,1180.0 114.4,1176.1 114.1,1172.5 C113.8,1168.9 113.0,1165.8 112.0,1162.0 C111.0,1158.2 108.8,1154.7 107.8,1150.0 C106.8,1145.3 106.5,1138.1 106.0,1134.1 C105.5,1130.0 105.1,1128.2 105.0,1125.7 C104.9,1123.2 105.1,1121.3 105.3,1119.0 C105.5,1116.7 106.0,1114.6 106.0,1112.0 C106.0,1109.4 105.8,1107.1 105.3,1103.6 C104.8,1100.1 103.5,1094.8 102.9,1091.0 C102.3,1087.2 102.0,1083.3 101.6,1080.5 C101.1,1077.7 100.4,1075.1 100.2,1074.0" stroke="#858585" stroke-width="1.7" fill="none"/>
<path d="M116.5,1044.2 C117.6,1044.4 118.8,1045.2 119.7,1046.8 C120.6,1048.4 121.2,1051.1 121.8,1054.1 C122.4,1057.1 122.9,1061.4 123.4,1064.7 C123.9,1068.0 124.5,1071.1 125.0,1074.1 C125.5,1077.1 125.7,1079.2 126.5,1082.6 C127.3,1085.9 128.9,1090.3 129.7,1094.2 C130.5,1098.1 130.9,1102.7 131.5,1106.0 C132.1,1109.3 132.2,1112.1 133.0,1114.0 C133.8,1115.9 134.6,1116.5 136.0,1117.6 C137.4,1118.7 139.9,1119.3 141.5,1120.5 C143.1,1121.7 144.3,1123.5 145.3,1125.0 C146.3,1126.5 146.6,1128.1 147.5,1129.5 C148.4,1130.9 149.6,1131.5 150.5,1133.3 C151.4,1135.0 152.2,1137.0 152.8,1140.0 C153.4,1143.0 153.8,1147.5 154.3,1151.3 C154.8,1155.1 155.3,1158.1 155.8,1162.6 C156.3,1167.0 157.0,1172.6 157.5,1178.0 C158.0,1183.4 159.0,1190.0 159.0,1195.0 C159.0,1200.0 158.7,1204.5 157.5,1208.0 C156.3,1211.5 154.0,1214.6 152.0,1216.0 C150.0,1217.4 147.4,1216.9 145.5,1216.5 C143.6,1216.1 142.6,1214.9 140.8,1213.6 C139.0,1212.3 136.7,1210.3 134.8,1208.5 C132.9,1206.7 131.0,1205.0 129.5,1203.0 C128.0,1201.0 126.8,1199.7 125.8,1196.5 C124.8,1193.3 124.0,1187.8 123.5,1183.8 C123.0,1179.8 123.4,1175.6 122.8,1172.5 C122.2,1169.4 121.2,1167.9 119.8,1165.0 C118.4,1162.1 115.9,1159.2 114.5,1155.0 C113.1,1150.8 112.0,1144.8 111.5,1140.0 C111.0,1135.2 111.2,1130.7 111.3,1126.0 C111.3,1121.3 111.9,1116.1 111.8,1112.0 C111.7,1107.9 111.4,1105.8 110.8,1101.5 C110.2,1097.2 109.0,1090.9 108.3,1086.0 C107.6,1081.1 106.8,1076.2 106.5,1072.0 C106.2,1067.8 105.9,1063.8 106.3,1060.5 C106.7,1057.2 107.6,1054.5 108.7,1052.0 C109.8,1049.5 111.6,1047.0 112.9,1045.7 C114.2,1044.4 115.4,1044.0 116.5,1044.2Z" stroke="#858585" stroke-width="1.7" fill="none"/>
<path d="M116.0,1061.3 C116.8,1061.8 117.8,1063.2 118.6,1064.7 C119.4,1066.2 120.1,1067.0 120.8,1070.0 C121.5,1073.0 122.4,1078.2 122.9,1082.6 C123.4,1087.0 123.9,1092.6 123.9,1096.3 C123.9,1100.0 123.5,1102.8 122.9,1104.7 C122.3,1106.6 121.2,1107.8 120.2,1107.8 C119.2,1107.8 118.1,1107.5 117.1,1104.7 C116.1,1101.9 115.3,1095.0 114.4,1091.0 C113.5,1087.0 112.3,1084.0 111.8,1080.5 C111.3,1077.0 111.3,1072.4 111.3,1070.0 C111.3,1067.6 111.2,1067.4 111.6,1066.0 C112.0,1064.6 113.2,1062.3 113.9,1061.5 C114.6,1060.7 115.2,1060.8 116.0,1061.3Z" stroke="#858585" stroke-width="1.7" fill="none"/>
<path d="M120.2,1121.5 C121.3,1121.2 122.9,1122.8 123.9,1124.7 C125.0,1126.6 125.4,1130.3 126.5,1133.0 C127.6,1135.7 129.3,1138.5 130.3,1141.0 C131.3,1143.5 131.8,1147.4 132.5,1148.0 C133.2,1148.6 133.5,1145.9 134.5,1144.5 C135.5,1143.1 137.2,1140.8 138.5,1139.8 C139.8,1138.8 140.9,1138.2 142.3,1138.5 C143.7,1138.8 145.6,1140.0 146.8,1141.5 C148.1,1143.0 148.9,1145.0 149.8,1147.5 C150.7,1150.0 151.4,1153.4 152.0,1156.5 C152.6,1159.6 153.1,1162.4 153.5,1166.3 C153.9,1170.2 154.3,1175.4 154.3,1180.0 C154.3,1184.6 154.1,1190.2 153.5,1194.0 C152.9,1197.8 151.8,1200.7 150.5,1202.5 C149.2,1204.3 147.5,1205.0 146.0,1205.0 C144.5,1205.0 143.0,1203.6 141.5,1202.6 C140.0,1201.6 138.5,1200.7 137.0,1198.8 C135.5,1196.9 133.4,1194.4 132.5,1191.3 C131.6,1188.2 131.7,1183.8 131.4,1180.0 C131.2,1176.2 131.3,1171.9 131.0,1168.8 C130.7,1165.7 130.6,1163.5 129.5,1161.3 C128.4,1159.1 126.1,1157.4 124.5,1155.5 C122.9,1153.6 121.0,1152.2 119.8,1150.0 C118.6,1147.8 117.8,1144.7 117.2,1142.0 C116.7,1139.3 116.5,1136.5 116.5,1134.0 C116.5,1131.5 116.6,1128.9 117.2,1126.8 C117.8,1124.7 119.1,1121.8 120.2,1121.5Z" stroke="#858585" stroke-width="1.7" fill="none"/>
<path d="M143.0,1148.7 C144.4,1148.6 146.4,1150.0 147.5,1152.0 C148.6,1154.0 149.2,1157.7 149.8,1161.0 C150.4,1164.3 151.0,1167.8 151.3,1172.0 C151.6,1176.2 152.1,1181.7 151.8,1186.0 C151.5,1190.3 150.5,1195.2 149.5,1198.0 C148.5,1200.8 147.4,1202.8 146.0,1203.0 C144.6,1203.2 142.5,1201.5 141.0,1199.0 C139.5,1196.5 137.9,1192.2 137.0,1188.0 C136.1,1183.8 135.7,1178.5 135.7,1174.0 C135.7,1169.5 136.2,1164.9 136.8,1161.3 C137.4,1157.7 138.3,1154.6 139.3,1152.5 C140.3,1150.4 141.6,1148.8 143.0,1148.7Z" stroke="#858585" stroke-width="1.7" fill="none"/>
<path d="M143.5,1164.0 C144.5,1163.8 146.0,1164.8 146.8,1167.0 C147.7,1169.2 148.3,1173.2 148.6,1177.0 C148.9,1180.8 148.9,1186.6 148.6,1190.0 C148.3,1193.4 147.6,1196.3 146.8,1197.5 C146.0,1198.7 144.9,1198.4 144.0,1197.0 C143.1,1195.6 142.2,1192.3 141.6,1189.0 C141.0,1185.7 140.5,1180.5 140.4,1177.0 C140.3,1173.5 140.5,1170.2 141.0,1168.0 C141.5,1165.8 142.5,1164.2 143.5,1164.0Z" stroke="#858585" stroke-width="1.7" fill="none"/>
<path d="M165.5,1207.5 L164.5,1207.7 L163.5,1207.7 L162.5,1207.5 L162.0,1207.4 L161.1,1207.0 L160.5,1206.7 L160.0,1206.5 L159.2,1206.0 L158.5,1205.6 L158.0,1205.2 L157.5,1204.8 L157.0,1204.5 L156.4,1204.0 L155.9,1203.5 L155.3,1203.0 L154.8,1202.5 L154.3,1202.0 L153.8,1201.5 L153.3,1201.0 L152.9,1200.5 L152.5,1200.0 L152.0,1199.4 L151.5,1198.8 L151.0,1198.2 L150.5,1197.5 L150.1,1197.0 L149.8,1196.5 L149.5,1196.0 L149.0,1195.3 L148.5,1194.6 L148.1,1194.0 L147.8,1193.5 L147.5,1193.0 L147.0,1192.2 L146.6,1191.5 L146.3,1191.0 L146.0,1190.5 L145.5,1189.7 L145.1,1189.0 L144.8,1188.5 L144.5,1187.9 L144.0,1187.0 L143.8,1186.5 L143.5,1186.0 L143.0,1185.0 L142.8,1184.5 L142.5,1183.9 L142.1,1183.0 L141.8,1182.5 L141.5,1181.7 L141.2,1181.0 L141.0,1180.5 L140.6,1179.5 L140.4,1179.0 L140.1,1178.0 L139.9,1177.5 L139.6,1176.5 L139.4,1176.0 L139.1,1175.0 L139.0,1174.4 L138.8,1173.5 L138.6,1172.5 L138.5,1172.0 L138.3,1171.0 L138.2,1170.0 L138.1,1169.0 L138.1,1168.0 L138.1,1167.0 L138.3,1166.0 L138.5,1165.1 L138.7,1164.5 L139.0,1164.0 L139.5,1163.3 L140.0,1162.9 L140.9,1162.5 L141.5,1162.4 L142.5,1162.4 L143.0,1162.5 L144.0,1162.8 L144.6,1163.0 L145.5,1163.5 L146.0,1163.7 L146.5,1164.0 L147.2,1164.5 L147.9,1165.0 L148.5,1165.5 L149.0,1165.9 L149.5,1166.3 L150.0,1166.8 L150.5,1167.2 L151.0,1167.7 L151.5,1168.2 L152.0,1168.8 L152.5,1169.3 L153.0,1169.8 L153.5,1170.4 L154.0,1171.0 L154.4,1171.5 L154.8,1172.0 L155.2,1172.5 L155.6,1173.0 L156.0,1173.5 L156.5,1174.2 L157.0,1174.9 L157.4,1175.5 L157.8,1176.0 L158.1,1176.5 L158.5,1177.1 L159.0,1177.8 L159.5,1178.5 L159.8,1179.0 L160.1,1179.5 L160.5,1180.1 L161.0,1180.8 L161.5,1181.5 L161.9,1182.0 L162.3,1182.5 L162.7,1183.0 L163.1,1183.5 L163.6,1184.0 L164.0,1184.5 L164.5,1185.0 L165.0,1185.5 L165.5,1186.0 L166.0,1186.6 L166.5,1187.2 L167.0,1187.8 L167.5,1188.5 L167.8,1189.0 L168.1,1189.5 L168.5,1190.5 L168.7,1191.0 L169.0,1192.0 L169.1,1192.5 L169.2,1193.5 L169.3,1194.5 L169.3,1195.5 L169.3,1196.5 L169.2,1197.5 L169.1,1198.5 L169.0,1199.0 L168.9,1200.0 L168.7,1201.0 L168.6,1202.0 L168.5,1202.5 L168.2,1203.5 L168.0,1204.3 L167.8,1205.0 L167.5,1205.6 L167.0,1206.4 L166.5,1206.9 L166.0,1207.3 L165.5,1207.5 L165.5,1207.5Z" stroke="#8536a3" stroke-width="1.1" fill="none"/>
<path d="M163.0,1202.7 L162.0,1202.9 L161.0,1202.8 L160.0,1202.5 L159.5,1202.4 L158.8,1202.0 L158.0,1201.6 L157.5,1201.3 L157.0,1200.9 L156.5,1200.5 L155.9,1200.0 L155.3,1199.5 L154.8,1199.0 L154.3,1198.5 L153.9,1198.0 L153.4,1197.5 L153.0,1197.0 L152.5,1196.3 L152.0,1195.7 L151.5,1195.0 L151.1,1194.5 L150.8,1194.0 L150.5,1193.5 L150.0,1192.8 L149.5,1192.0 L149.2,1191.5 L148.8,1191.0 L148.5,1190.4 L148.0,1189.6 L147.6,1189.0 L147.3,1188.5 L147.0,1187.9 L146.5,1187.0 L146.3,1186.5 L146.0,1186.0 L145.5,1185.0 L145.3,1184.5 L145.0,1183.9 L144.6,1183.0 L144.4,1182.5 L144.0,1181.6 L143.7,1181.0 L143.5,1180.3 L143.2,1179.5 L143.0,1178.8 L142.7,1178.0 L142.5,1177.1 L142.3,1176.5 L142.1,1175.5 L142.0,1174.7 L141.9,1174.0 L141.8,1173.0 L141.8,1172.0 L141.9,1171.0 L142.0,1170.5 L142.3,1169.5 L142.6,1169.0 L143.1,1168.5 L144.0,1168.1 L145.0,1168.0 L146.0,1168.2 L146.7,1168.5 L147.5,1168.9 L148.0,1169.2 L148.5,1169.5 L149.2,1170.0 L149.8,1170.5 L150.4,1171.0 L150.9,1171.5 L151.5,1172.0 L152.0,1172.5 L152.4,1173.0 L152.9,1173.5 L153.3,1174.0 L153.8,1174.5 L154.2,1175.0 L154.6,1175.5 L155.0,1176.1 L155.5,1176.7 L156.0,1177.4 L156.4,1178.0 L156.8,1178.5 L157.1,1179.0 L157.5,1179.6 L158.0,1180.3 L158.4,1181.0 L158.8,1181.5 L159.1,1182.0 L159.5,1182.6 L160.0,1183.3 L160.5,1184.0 L160.9,1184.5 L161.3,1185.0 L161.7,1185.5 L162.1,1186.0 L162.5,1186.5 L163.0,1187.2 L163.5,1187.8 L164.0,1188.5 L164.4,1189.0 L164.7,1189.5 L165.0,1190.0 L165.5,1191.0 L165.7,1191.5 L166.0,1192.4 L166.1,1193.0 L166.3,1194.0 L166.3,1195.0 L166.3,1196.0 L166.2,1197.0 L166.0,1198.0 L165.9,1198.5 L165.6,1199.5 L165.4,1200.0 L165.0,1200.8 L164.5,1201.5 L164.1,1202.0 L163.5,1202.4 L163.0,1202.7 L163.0,1202.7Z" stroke="#8536a3" stroke-width="1.1" fill="none"/>
<path d="M161.5,1199.5 L160.5,1199.7 L159.5,1199.5 L159.0,1199.4 L158.1,1199.0 L157.5,1198.6 L157.0,1198.3 L156.5,1197.9 L156.0,1197.5 L155.5,1197.0 L155.0,1196.5 L154.5,1196.0 L154.0,1195.4 L153.5,1194.8 L153.0,1194.2 L152.5,1193.5 L152.1,1193.0 L151.8,1192.5 L151.4,1192.0 L151.0,1191.4 L150.5,1190.6 L150.1,1190.0 L149.8,1189.5 L149.5,1189.0 L149.0,1188.1 L148.6,1187.5 L148.4,1187.0 L148.0,1186.3 L147.6,1185.5 L147.3,1185.0 L147.0,1184.3 L146.6,1183.5 L146.4,1183.0 L146.0,1182.0 L145.8,1181.5 L145.5,1180.5 L145.3,1180.0 L145.1,1179.0 L144.9,1178.5 L144.7,1177.5 L144.6,1176.5 L144.6,1175.5 L144.6,1174.5 L144.9,1173.5 L145.1,1173.0 L145.7,1172.5 L146.5,1172.2 L147.5,1172.3 L148.1,1172.5 L149.0,1172.9 L149.5,1173.2 L150.0,1173.6 L150.5,1174.0 L151.1,1174.5 L151.6,1175.0 L152.1,1175.5 L152.6,1176.0 L153.1,1176.5 L153.5,1177.0 L154.0,1177.6 L154.5,1178.2 L155.0,1178.9 L155.4,1179.5 L155.8,1180.0 L156.1,1180.5 L156.5,1181.0 L157.0,1181.8 L157.5,1182.5 L157.8,1183.0 L158.1,1183.5 L158.5,1184.0 L159.0,1184.8 L159.5,1185.5 L159.9,1186.0 L160.2,1186.5 L160.6,1187.0 L161.0,1187.6 L161.5,1188.3 L162.0,1189.0 L162.3,1189.5 L162.7,1190.0 L163.0,1190.6 L163.4,1191.5 L163.6,1192.0 L163.9,1193.0 L164.0,1193.7 L164.1,1194.5 L164.0,1195.5 L164.0,1196.0 L163.7,1197.0 L163.5,1197.5 L163.0,1198.4 L162.5,1199.0 L162.0,1199.3 L161.5,1199.5 L161.5,1199.5Z" stroke="#8536a3" stroke-width="1.1" fill="none"/>
<path d="M160.5,1196.7 L159.5,1196.9 L158.5,1196.8 L157.9,1196.5 L157.0,1196.0 L156.5,1195.6 L156.0,1195.2 L155.5,1194.7 L155.0,1194.2 L154.5,1193.6 L154.0,1193.0 L153.6,1192.5 L153.2,1192.0 L152.9,1191.5 L152.5,1191.0 L152.0,1190.2 L151.5,1189.5 L151.2,1189.0 L150.9,1188.5 L150.5,1187.8 L150.0,1187.0 L149.7,1186.5 L149.5,1186.0 L149.0,1185.0 L148.7,1184.5 L148.5,1183.9 L148.1,1183.0 L147.9,1182.5 L147.6,1181.5 L147.4,1181.0 L147.2,1180.0 L147.1,1179.0 L147.0,1178.0 L147.2,1177.0 L147.5,1176.4 L148.2,1176.0 L149.0,1176.0 L149.5,1176.1 L150.2,1176.5 L151.0,1177.0 L151.5,1177.4 L152.0,1177.9 L152.5,1178.4 L153.0,1178.9 L153.5,1179.5 L153.9,1180.0 L154.3,1180.5 L154.7,1181.0 L155.0,1181.5 L155.5,1182.2 L156.0,1182.9 L156.4,1183.5 L156.7,1184.0 L157.0,1184.5 L157.5,1185.2 L158.0,1186.0 L158.4,1186.5 L158.7,1187.0 L159.0,1187.5 L159.5,1188.2 L160.0,1189.0 L160.3,1189.5 L160.6,1190.0 L161.0,1190.7 L161.4,1191.5 L161.6,1192.0 L161.8,1193.0 L161.9,1194.0 L161.8,1195.0 L161.5,1195.7 L161.0,1196.4 L160.5,1196.7 L160.5,1196.7Z" stroke="#8536a3" stroke-width="1.1" fill="none"/>
<path d="M159.0,1193.6 L158.0,1193.8 L157.1,1193.5 L156.5,1193.1 L156.0,1192.7 L155.5,1192.2 L155.0,1191.6 L154.5,1191.1 L154.1,1190.5 L153.7,1190.0 L153.3,1189.5 L153.0,1189.0 L152.5,1188.3 L152.0,1187.5 L151.7,1187.0 L151.4,1186.5 L151.0,1185.7 L150.7,1185.0 L150.4,1184.5 L150.1,1183.5 L149.9,1183.0 L149.7,1182.0 L149.6,1181.0 L150.0,1180.0 L150.5,1179.8 L151.1,1180.0 L151.9,1180.5 L152.5,1181.0 L153.0,1181.5 L153.4,1182.0 L153.8,1182.5 L154.2,1183.0 L154.6,1183.5 L155.0,1184.1 L155.5,1184.8 L155.9,1185.5 L156.2,1186.0 L156.6,1186.5 L157.0,1187.2 L157.5,1188.0 L157.8,1188.5 L158.1,1189.0 L158.5,1189.8 L158.8,1190.5 L159.1,1191.0 L159.3,1192.0 L159.3,1193.0 L159.0,1193.6 L159.0,1193.6Z" stroke="#8536a3" stroke-width="1.1" fill="none"/>
<path d="M174.0,1226.5 L173.0,1226.6 L172.0,1226.6 L171.0,1226.6 L170.0,1226.6 L169.0,1226.6 L168.2,1226.5 L167.5,1226.4 L166.5,1226.3 L165.5,1226.2 L164.6,1226.0 L164.0,1225.9 L163.0,1225.7 L162.4,1225.5 L161.5,1225.2 L160.8,1225.0 L160.0,1224.7 L159.4,1224.5 L158.5,1224.1 L158.0,1223.9 L157.3,1223.5 L156.5,1223.1 L156.0,1222.8 L155.5,1222.4 L154.9,1222.0 L154.2,1221.5 L153.6,1221.0 L153.0,1220.5 L152.5,1220.0 L152.0,1219.5 L151.5,1219.0 L151.1,1218.5 L150.7,1218.0 L150.3,1217.5 L150.0,1217.0 L149.5,1216.2 L149.1,1215.5 L148.8,1215.0 L148.5,1214.2 L148.2,1213.5 L148.0,1213.0 L147.7,1212.0 L147.5,1211.3 L147.3,1210.5 L147.2,1209.5 L147.0,1208.5 L147.0,1207.6 L147.0,1207.0 L147.0,1206.5 L147.1,1205.5 L147.2,1204.5 L147.3,1203.5 L147.5,1202.9 L147.7,1202.0 L148.0,1201.2 L148.3,1200.5 L148.5,1199.9 L148.9,1199.0 L149.2,1198.5 L149.5,1198.0 L150.0,1197.2 L150.5,1196.5 L150.9,1196.0 L151.3,1195.5 L151.8,1195.0 L152.3,1194.5 L152.8,1194.0 L153.4,1193.5 L154.0,1193.0 L154.5,1192.6 L155.0,1192.3 L155.5,1192.0 L156.3,1191.5 L157.0,1191.2 L157.5,1190.9 L158.5,1190.5 L159.0,1190.3 L160.0,1190.0 L160.5,1189.9 L161.5,1189.7 L162.5,1189.5 L163.0,1189.5 L164.0,1189.4 L165.0,1189.4 L166.0,1189.4 L166.8,1189.5 L167.5,1189.6 L168.5,1189.7 L169.5,1190.0 L170.0,1190.1 L171.0,1190.4 L171.5,1190.6 L172.5,1191.0 L173.0,1191.2 L173.7,1191.5 L174.5,1191.9 L175.0,1192.2 L175.6,1192.5 L176.4,1193.0 L177.0,1193.4 L177.5,1193.8 L178.0,1194.1 L178.5,1194.5 L179.1,1195.0 L179.7,1195.5 L180.3,1196.0 L180.9,1196.5 L181.4,1197.0 L181.9,1197.5 L182.4,1198.0 L182.9,1198.5 L183.3,1199.0 L183.8,1199.5 L184.2,1200.0 L184.6,1200.5 L185.0,1201.0 L185.5,1201.6 L186.0,1202.3 L186.5,1203.0 L186.8,1203.5 L187.1,1204.0 L187.5,1204.7 L187.9,1205.5 L188.2,1206.0 L188.5,1206.7 L188.8,1207.5 L189.0,1208.1 L189.3,1209.0 L189.5,1210.0 L189.6,1210.5 L189.7,1211.5 L189.8,1212.5 L189.7,1213.5 L189.6,1214.5 L189.5,1215.3 L189.3,1216.0 L189.0,1217.0 L188.8,1217.5 L188.5,1218.2 L188.1,1219.0 L187.8,1219.5 L187.4,1220.0 L187.0,1220.6 L186.5,1221.2 L186.0,1221.7 L185.5,1222.2 L185.0,1222.6 L184.5,1223.0 L183.8,1223.5 L183.0,1224.0 L182.5,1224.3 L182.0,1224.5 L181.0,1225.0 L180.5,1225.2 L179.5,1225.5 L179.0,1225.7 L178.0,1225.9 L177.5,1226.0 L176.5,1226.2 L175.5,1226.4 L174.5,1226.5 L174.0,1226.5 L174.0,1226.5Z" stroke="#1010f0" stroke-width="1.5" fill="none"/>
<path d="M172.5,1223.0 L171.5,1223.1 L170.5,1223.2 L169.5,1223.2 L168.5,1223.2 L167.5,1223.1 L166.5,1223.0 L166.0,1223.0 L165.0,1222.8 L164.0,1222.6 L163.5,1222.5 L162.5,1222.2 L161.8,1222.0 L161.0,1221.7 L160.5,1221.5 L159.5,1221.1 L159.0,1220.8 L158.4,1220.5 L157.6,1220.0 L157.0,1219.6 L156.5,1219.3 L156.0,1218.9 L155.5,1218.5 L155.0,1218.0 L154.5,1217.5 L154.0,1217.0 L153.5,1216.4 L153.0,1215.7 L152.5,1215.0 L152.2,1214.5 L151.9,1214.0 L151.5,1213.1 L151.3,1212.5 L151.0,1211.8 L150.8,1211.0 L150.5,1210.0 L150.4,1209.5 L150.3,1208.5 L150.2,1207.5 L150.2,1206.5 L150.3,1205.5 L150.5,1204.5 L150.6,1204.0 L150.8,1203.0 L151.0,1202.4 L151.3,1201.5 L151.6,1201.0 L152.0,1200.2 L152.4,1199.5 L152.7,1199.0 L153.1,1198.5 L153.5,1197.9 L154.0,1197.4 L154.5,1196.8 L155.0,1196.4 L155.5,1195.9 L156.1,1195.5 L156.8,1195.0 L157.5,1194.6 L158.0,1194.3 L158.6,1194.0 L159.5,1193.6 L160.0,1193.4 L161.0,1193.1 L161.5,1193.0 L162.5,1192.8 L163.5,1192.7 L164.5,1192.6 L165.5,1192.6 L166.5,1192.7 L167.5,1192.8 L168.5,1193.0 L169.0,1193.1 L170.0,1193.4 L170.5,1193.6 L171.5,1194.0 L172.0,1194.2 L172.6,1194.5 L173.5,1195.0 L174.0,1195.3 L174.5,1195.6 L175.1,1196.0 L175.8,1196.5 L176.5,1197.0 L177.0,1197.4 L177.5,1197.9 L178.0,1198.3 L178.5,1198.8 L179.0,1199.3 L179.5,1199.9 L180.0,1200.4 L180.5,1201.0 L180.9,1201.5 L181.3,1202.0 L181.6,1202.5 L182.0,1203.0 L182.5,1203.8 L182.9,1204.5 L183.2,1205.0 L183.5,1205.5 L184.0,1206.5 L184.2,1207.0 L184.5,1207.9 L184.7,1208.5 L184.9,1209.5 L185.0,1210.0 L185.1,1211.0 L185.2,1212.0 L185.1,1213.0 L185.0,1213.8 L184.8,1214.5 L184.5,1215.5 L184.3,1216.0 L184.0,1216.6 L183.5,1217.5 L183.1,1218.0 L182.7,1218.5 L182.2,1219.0 L181.7,1219.5 L181.1,1220.0 L180.5,1220.4 L180.0,1220.7 L179.5,1221.0 L178.5,1221.5 L178.0,1221.7 L177.3,1222.0 L176.5,1222.3 L175.6,1222.5 L175.0,1222.6 L174.0,1222.8 L173.0,1223.0 L172.5,1223.0 L172.5,1223.0Z" stroke="#1010f0" stroke-width="1.5" fill="none"/>
<path d="M170.5,1220.5 L169.5,1220.6 L168.5,1220.6 L167.5,1220.6 L166.5,1220.5 L166.0,1220.5 L165.0,1220.3 L164.0,1220.1 L163.5,1220.0 L162.5,1219.7 L162.0,1219.5 L161.0,1219.1 L160.5,1218.9 L159.7,1218.5 L159.0,1218.1 L158.5,1217.7 L158.0,1217.4 L157.5,1217.0 L156.9,1216.5 L156.4,1216.0 L155.9,1215.5 L155.5,1215.0 L155.0,1214.3 L154.5,1213.6 L154.2,1213.0 L153.9,1212.5 L153.5,1211.5 L153.3,1211.0 L153.0,1210.0 L152.9,1209.5 L152.8,1208.5 L152.7,1207.5 L152.7,1206.5 L152.8,1205.5 L153.0,1204.5 L153.1,1204.0 L153.4,1203.0 L153.6,1202.5 L154.0,1201.7 L154.4,1201.0 L154.7,1200.5 L155.0,1200.0 L155.5,1199.4 L156.0,1198.8 L156.5,1198.3 L157.0,1197.9 L157.5,1197.5 L158.2,1197.0 L159.0,1196.5 L159.5,1196.3 L160.1,1196.0 L161.0,1195.7 L161.6,1195.5 L162.5,1195.3 L163.5,1195.1 L164.5,1195.0 L165.5,1195.0 L166.5,1195.1 L167.5,1195.3 L168.5,1195.5 L169.0,1195.6 L170.0,1196.0 L170.5,1196.2 L171.3,1196.5 L172.0,1196.9 L172.5,1197.2 L173.0,1197.5 L173.8,1198.0 L174.4,1198.5 L175.0,1198.9 L175.5,1199.4 L176.0,1199.9 L176.5,1200.4 L177.0,1200.9 L177.5,1201.5 L177.9,1202.0 L178.3,1202.5 L178.7,1203.0 L179.0,1203.5 L179.5,1204.3 L179.9,1205.0 L180.2,1205.5 L180.5,1206.2 L180.8,1207.0 L181.0,1207.5 L181.3,1208.5 L181.5,1209.5 L181.6,1210.0 L181.6,1211.0 L181.6,1212.0 L181.5,1212.5 L181.3,1213.5 L181.0,1214.3 L180.7,1215.0 L180.4,1215.5 L180.0,1216.0 L179.5,1216.6 L179.0,1217.2 L178.5,1217.6 L178.0,1218.0 L177.2,1218.5 L176.5,1218.9 L176.0,1219.1 L175.1,1219.5 L174.5,1219.7 L173.6,1220.0 L173.0,1220.1 L172.0,1220.3 L171.0,1220.5 L170.5,1220.5 L170.5,1220.5Z" stroke="#1010f0" stroke-width="1.5" fill="none"/>
<path d="M169.5,1218.6 L168.5,1218.6 L167.5,1218.6 L166.5,1218.6 L165.8,1218.5 L165.0,1218.4 L164.0,1218.2 L163.4,1218.0 L162.5,1217.7 L162.0,1217.5 L161.0,1217.0 L160.5,1216.8 L160.0,1216.5 L159.3,1216.0 L158.7,1215.5 L158.1,1215.0 L157.6,1214.5 L157.2,1214.0 L156.8,1213.5 L156.4,1213.0 L156.0,1212.3 L155.6,1211.5 L155.4,1211.0 L155.0,1210.0 L154.9,1209.5 L154.7,1208.5 L154.6,1207.5 L154.7,1206.5 L154.8,1205.5 L155.0,1204.5 L155.1,1204.0 L155.5,1203.0 L155.8,1202.5 L156.0,1202.0 L156.5,1201.3 L157.0,1200.6 L157.5,1200.1 L158.0,1199.6 L158.5,1199.2 L159.0,1198.8 L159.5,1198.5 L160.4,1198.0 L161.0,1197.7 L161.6,1197.5 L162.5,1197.2 L163.5,1197.0 L164.0,1197.0 L165.0,1196.9 L166.0,1197.0 L166.5,1197.0 L167.5,1197.2 L168.5,1197.4 L169.0,1197.6 L170.0,1198.0 L170.5,1198.2 L171.0,1198.5 L171.9,1199.0 L172.5,1199.4 L173.0,1199.8 L173.5,1200.2 L174.0,1200.6 L174.5,1201.1 L175.0,1201.6 L175.5,1202.2 L176.0,1202.8 L176.5,1203.5 L176.8,1204.0 L177.2,1204.5 L177.5,1205.1 L177.9,1206.0 L178.1,1206.5 L178.5,1207.5 L178.6,1208.0 L178.8,1209.0 L178.9,1210.0 L178.9,1211.0 L178.7,1212.0 L178.5,1212.7 L178.2,1213.5 L177.9,1214.0 L177.5,1214.6 L177.0,1215.2 L176.5,1215.7 L176.0,1216.2 L175.5,1216.5 L174.7,1217.0 L174.0,1217.4 L173.5,1217.6 L172.5,1218.0 L172.0,1218.1 L171.0,1218.3 L170.0,1218.5 L169.5,1218.6 L169.5,1218.6Z" stroke="#1010f0" stroke-width="1.5" fill="none"/>
<path d="M170.5,1216.5 L169.5,1216.7 L168.5,1216.8 L167.5,1216.9 L166.5,1216.9 L165.5,1216.7 L164.5,1216.6 L164.0,1216.4 L163.0,1216.1 L162.5,1215.9 L161.6,1215.5 L161.0,1215.1 L160.5,1214.8 L160.0,1214.4 L159.5,1214.0 L159.0,1213.5 L158.5,1213.0 L158.0,1212.3 L157.5,1211.5 L157.2,1211.0 L157.0,1210.5 L156.7,1209.5 L156.5,1208.8 L156.4,1208.0 L156.4,1207.0 L156.4,1206.0 L156.5,1205.5 L156.8,1204.5 L157.0,1203.9 L157.5,1203.0 L157.8,1202.5 L158.1,1202.0 L158.5,1201.5 L159.0,1201.0 L159.6,1200.5 L160.3,1200.0 L161.0,1199.6 L161.5,1199.4 L162.5,1199.0 L163.0,1198.9 L164.0,1198.7 L165.0,1198.6 L166.0,1198.6 L167.0,1198.8 L167.9,1199.0 L168.5,1199.2 L169.3,1199.5 L170.0,1199.8 L170.5,1200.1 L171.2,1200.5 L171.8,1201.0 L172.5,1201.5 L173.0,1202.0 L173.5,1202.5 L173.9,1203.0 L174.3,1203.5 L174.7,1204.0 L175.0,1204.5 L175.5,1205.4 L175.8,1206.0 L176.0,1206.5 L176.3,1207.5 L176.5,1208.4 L176.6,1209.0 L176.6,1210.0 L176.5,1210.8 L176.3,1211.5 L176.0,1212.4 L175.7,1213.0 L175.4,1213.5 L174.9,1214.0 L174.4,1214.5 L173.8,1215.0 L173.0,1215.5 L172.5,1215.8 L172.0,1216.0 L171.0,1216.4 L170.5,1216.5 L170.5,1216.5Z" stroke="#1010f0" stroke-width="1.5" fill="none"/>
<path d="M169.0,1215.0 L168.0,1215.2 L167.0,1215.2 L166.0,1215.2 L165.0,1215.0 L164.5,1214.9 L163.5,1214.6 L163.0,1214.4 L162.2,1214.0 L161.5,1213.6 L161.0,1213.2 L160.5,1212.8 L160.0,1212.3 L159.5,1211.7 L159.1,1211.0 L158.8,1210.5 L158.5,1209.8 L158.2,1209.0 L158.1,1208.0 L158.0,1207.0 L158.1,1206.0 L158.4,1205.0 L158.6,1204.5 L159.0,1203.7 L159.5,1203.0 L159.9,1202.5 L160.4,1202.0 L161.0,1201.5 L161.5,1201.2 L162.0,1201.0 L163.0,1200.6 L163.5,1200.4 L164.5,1200.3 L165.5,1200.2 L166.5,1200.3 L167.4,1200.5 L168.0,1200.7 L168.8,1201.0 L169.5,1201.4 L170.0,1201.7 L170.5,1202.0 L171.1,1202.5 L171.7,1203.0 L172.2,1203.5 L172.6,1204.0 L173.0,1204.6 L173.5,1205.4 L173.8,1206.0 L174.0,1206.5 L174.3,1207.5 L174.5,1208.5 L174.5,1209.5 L174.3,1210.5 L174.0,1211.4 L173.7,1212.0 L173.4,1212.5 L172.9,1213.0 L172.4,1213.5 L171.7,1214.0 L171.0,1214.4 L170.5,1214.6 L169.5,1214.9 L169.0,1215.0 L169.0,1215.0Z" stroke="#1010f0" stroke-width="1.5" fill="none"/>
<path d="M166.5,1213.5 L166.0,1213.5 L165.0,1213.3 L164.0,1213.0 L163.5,1212.8 L162.9,1212.5 L162.2,1212.0 L161.6,1211.5 L161.1,1211.0 L160.8,1210.5 L160.4,1210.0 L160.0,1209.0 L159.9,1208.5 L159.8,1207.5 L159.8,1206.5 L160.0,1205.7 L160.3,1205.0 L160.6,1204.5 L161.0,1203.9 L161.5,1203.4 L162.0,1203.0 L162.8,1202.5 L163.5,1202.2 L164.3,1202.0 L165.0,1201.9 L166.0,1201.9 L166.5,1202.0 L167.5,1202.3 L168.1,1202.5 L169.0,1203.0 L169.5,1203.3 L170.0,1203.7 L170.5,1204.2 L171.0,1204.8 L171.5,1205.5 L171.8,1206.0 L172.0,1206.5 L172.3,1207.5 L172.4,1208.5 L172.3,1209.5 L172.0,1210.5 L171.8,1211.0 L171.4,1211.5 L170.9,1212.0 L170.3,1212.5 L169.5,1212.9 L169.0,1213.1 L168.0,1213.4 L167.0,1213.5 L166.5,1213.5 L166.5,1213.5Z" stroke="#1010f0" stroke-width="1.5" fill="none"/>
<path d="M168.0,1211.1 L167.0,1211.4 L166.0,1211.5 L165.0,1211.3 L164.3,1211.0 L163.5,1210.5 L163.0,1210.1 L162.5,1209.5 L162.2,1209.0 L162.0,1208.4 L161.9,1207.5 L162.0,1206.5 L162.1,1206.0 L162.5,1205.4 L163.0,1204.8 L163.5,1204.5 L164.5,1204.0 L165.0,1203.9 L166.0,1203.9 L166.5,1204.0 L167.5,1204.4 L168.0,1204.7 L168.5,1205.1 L169.0,1205.6 L169.5,1206.3 L169.8,1207.0 L170.0,1207.6 L170.0,1208.5 L169.9,1209.0 L169.5,1210.0 L169.0,1210.5 L168.5,1210.9 L168.0,1211.1 L168.0,1211.1Z" stroke="#1010f0" stroke-width="1.5" fill="none"/>
<rect x="94.8" y="1167.6" width="8" height="8" fill="#c8c8c8" stroke="#7f7f7f" stroke-width="0.9"/>
<text x="101.8" y="1167.0" font-size="18" fill="#383838" font-weight="normal" font-style="italic" text-anchor="start" >Chr.</text>
<rect x="412.7" y="1120.8" width="8" height="8" fill="#c8c8c8" stroke="#7f7f7f" stroke-width="0.9"/>
<text x="423.4" y="1122.5" font-size="18" fill="#383838" font-weight="normal" font-style="italic" text-anchor="start" >Hc.</text>
<rect x="482.5" y="1186.0" width="8" height="8" fill="#c8c8c8" stroke="#7f7f7f" stroke-width="0.9"/>
<text x="491.0" y="1185.6" font-size="18" fill="#383838" font-weight="normal" font-style="italic" text-anchor="start" >Spl.</text>
<rect x="399.0" y="1292.8" width="8" height="8" fill="#c8c8c8" stroke="#7f7f7f" stroke-width="0.9"/>
<text x="408.8" y="1294.0" font-size="18" fill="#383838" font-weight="normal" font-style="italic" text-anchor="start" >Glx.</text>
<polygon points="276.0,1226.1 268.0,1230.6 276.0,1235.1" fill="#c8c8c8" stroke="#7f7f7f" stroke-width="0.9"/>
<text x="278.0" y="1223.9" font-size="18" fill="#383838" font-weight="normal" font-style="italic" text-anchor="start" >Sek.</text>
<polygon points="290.8,1258.7 282.8,1263.2 290.8,1267.7" fill="#c8c8c8" stroke="#7f7f7f" stroke-width="0.9"/>
<text x="294.7" y="1273.7" font-size="18" fill="#383838" font-weight="normal" font-style="italic" text-anchor="start" >Crd.</text>
<polygon points="441.4,1327.0 433.4,1331.5 441.4,1336.0" fill="#c8c8c8" stroke="#7f7f7f" stroke-width="0.9"/>
<text x="444.7" y="1327.0" font-size="18" fill="#383838" font-weight="normal" font-style="italic" text-anchor="start" >Mul.</text>
<polygon points="489.4,1327.0 481.4,1331.5 489.4,1336.0" fill="#c8c8c8" stroke="#7f7f7f" stroke-width="0.9"/>
<text x="491.0" y="1327.0" font-size="18" fill="#383838" font-weight="normal" font-style="italic" text-anchor="start" >And.</text>
<polygon points="643.1,1327.0 635.1,1331.5 643.1,1336.0" fill="#c8c8c8" stroke="#7f7f7f" stroke-width="0.9"/>
<text x="603.7" y="1327.0" font-size="18" fill="#383838" font-weight="normal" font-style="italic" text-anchor="start" >Crn.</text>
<polygon points="184.00,1313.20 188.70,1319.50 184.00,1325.80 179.30,1319.50" fill="#3b7bd0" stroke="#1d348c" stroke-width="0.8"/>
<polygon points="190.80,1314.70 195.50,1321.00 190.80,1327.30 186.10,1321.00" fill="#3b7bd0" stroke="#1d348c" stroke-width="0.8"/>
<polygon points="199.00,1314.70 203.70,1321.00 199.00,1327.30 194.30,1321.00" fill="#3b7bd0" stroke="#1d348c" stroke-width="0.8"/>
<polygon points="204.30,1311.70 209.00,1318.00 204.30,1324.30 199.60,1318.00" fill="#3b7bd0" stroke="#1d348c" stroke-width="0.8"/>
<polygon points="186.80,1300.50 196.30,1306.00 186.80,1311.50" fill="#82da2c" stroke="#3f6e1c" stroke-width="0.8"/>
<polygon points="221.30,1311.50 232.30,1311.50 226.80,1302.00" fill="#82da2c" stroke="#3f6e1c" stroke-width="0.8"/>
<polygon points="239.00,1300.50 229.50,1306.00 239.00,1311.50" fill="#82da2c" stroke="#3f6e1c" stroke-width="0.8"/>
<polygon points="236.80,1320.10 227.30,1325.60 236.80,1331.10" fill="#82da2c" stroke="#3f6e1c" stroke-width="0.8"/>
<polygon points="227.60,1311.70 232.30,1318.00 227.60,1324.30 222.90,1318.00" fill="#3b7bd0" stroke="#1d348c" stroke-width="0.8"/>
<polygon points="234.30,1314.00 239.00,1320.30 234.30,1326.60 229.60,1320.30" fill="#3b7bd0" stroke="#1d348c" stroke-width="0.8"/>
<polygon points="240.10,1287.50 251.10,1287.50 245.60,1278.00" fill="#82da2c" stroke="#3f6e1c" stroke-width="0.8"/>
<polygon points="245.30,1297.30 256.30,1297.30 250.80,1287.80" fill="#82da2c" stroke="#3f6e1c" stroke-width="0.8"/>
<polygon points="246.80,1314.50 257.80,1314.50 252.30,1305.00" fill="#82da2c" stroke="#3f6e1c" stroke-width="0.8"/>
<polygon points="255.60,1320.10 246.10,1325.60 255.60,1331.10" fill="#82da2c" stroke="#3f6e1c" stroke-width="0.8"/>
<polygon points="247.80,1315.50 252.50,1321.80 247.80,1328.10 243.10,1321.80" fill="#3b7bd0" stroke="#1d348c" stroke-width="0.8"/>
<polygon points="256.00,1314.00 260.70,1320.30 256.00,1326.60 251.30,1320.30" fill="#3b7bd0" stroke="#1d348c" stroke-width="0.8"/>
<polygon points="254.30,1322.00 265.30,1322.00 259.80,1312.50" fill="#82da2c" stroke="#3f6e1c" stroke-width="0.8"/>
<polygon points="258.10,1322.90 269.10,1322.90 263.60,1313.40" fill="#82da2c" stroke="#3f6e1c" stroke-width="0.8"/>
<polygon points="263.80,1319.60 272.80,1319.60 272.80,1328.60 263.80,1328.60" fill="#f29a33" stroke="#c46b1b" stroke-width="0.8"/>
<polygon points="268.30,1305.00 269.95,1309.23 274.48,1309.49 270.96,1312.37 272.12,1316.76 268.30,1314.30 264.48,1316.76 265.64,1312.37 262.12,1309.49 266.65,1309.23" fill="#f29a33" stroke="#c46b1b" stroke-width="0.8"/>
<polygon points="273.60,1296.60 275.25,1300.83 279.78,1301.09 276.26,1303.97 277.42,1308.36 273.60,1305.90 269.78,1308.36 270.94,1303.97 267.42,1301.09 271.95,1300.83" fill="#f29a33" stroke="#c46b1b" stroke-width="0.8"/>
<polygon points="272.60,1298.00 274.25,1302.23 278.78,1302.49 275.26,1305.37 276.42,1309.76 272.60,1307.30 268.78,1309.76 269.94,1305.37 266.42,1302.49 270.95,1302.23" fill="#f29a33" stroke="#c46b1b" stroke-width="0.8"/>
<polygon points="264.30,1318.80 273.30,1318.80 273.30,1327.80 264.30,1327.80" fill="#f29a33" stroke="#c46b1b" stroke-width="0.8"/>
<polygon points="281.40,1314.50 283.05,1318.73 287.58,1318.99 284.06,1321.87 285.22,1326.26 281.40,1323.80 277.58,1326.26 278.74,1321.87 275.22,1318.99 279.75,1318.73" fill="#f29a33" stroke="#c46b1b" stroke-width="0.8"/>
<polygon points="289.30,1316.60 290.95,1320.83 295.48,1321.09 291.96,1323.97 293.12,1328.36 289.30,1325.90 285.48,1328.36 286.64,1323.97 283.12,1321.09 287.65,1320.83" fill="#f29a33" stroke="#c46b1b" stroke-width="0.8"/>
<polygon points="295.60,1312.40 297.25,1316.63 301.78,1316.89 298.26,1319.77 299.42,1324.16 295.60,1321.70 291.78,1324.16 292.94,1319.77 289.42,1316.89 293.95,1316.63" fill="#f29a33" stroke="#c46b1b" stroke-width="0.8"/>
<polygon points="278.00,1319.50 279.65,1323.73 284.18,1323.99 280.66,1326.87 281.82,1331.26 278.00,1328.80 274.18,1331.26 275.34,1326.87 271.82,1323.99 276.35,1323.73" fill="#f29a33" stroke="#c46b1b" stroke-width="0.8"/>
<polygon points="285.00,1320.50 286.65,1324.73 291.18,1324.99 287.66,1327.87 288.82,1332.26 285.00,1329.80 281.18,1332.26 282.34,1327.87 278.82,1324.99 283.35,1324.73" fill="#f29a33" stroke="#c46b1b" stroke-width="0.8"/>
<polygon points="306.90,1308.10 315.90,1308.10 315.90,1317.10 306.90,1317.10" fill="#f29a33" stroke="#c46b1b" stroke-width="0.8"/>
<polygon points="316.40,1318.60 325.40,1318.60 325.40,1327.60 316.40,1327.60" fill="#f29a33" stroke="#c46b1b" stroke-width="0.8"/>
<polygon points="324.80,1318.60 333.80,1318.60 333.80,1327.60 324.80,1327.60" fill="#f29a33" stroke="#c46b1b" stroke-width="0.8"/>
<polygon points="332.20,1317.50 341.20,1317.50 341.20,1326.50 332.20,1326.50" fill="#f29a33" stroke="#c46b1b" stroke-width="0.8"/>
<polygon points="339.50,1317.50 348.50,1317.50 348.50,1326.50 339.50,1326.50" fill="#f29a33" stroke="#c46b1b" stroke-width="0.8"/>
<polygon points="352.20,1317.50 361.20,1317.50 361.20,1326.50 352.20,1326.50" fill="#f29a33" stroke="#c46b1b" stroke-width="0.8"/>
<polygon points="299.50,1317.50 308.50,1317.50 308.50,1326.50 299.50,1326.50" fill="#f29a33" stroke="#c46b1b" stroke-width="0.8"/>
<polygon points="293.00,1288.10 294.85,1291.50 298.72,1291.40 296.70,1294.70 298.72,1298.00 294.85,1297.90 293.00,1301.30 291.15,1297.90 287.28,1298.00 289.30,1294.70 287.28,1291.40 291.15,1291.50" fill="#ff2010" stroke="#a8150c" stroke-width="0.8"/>
<polygon points="306.10,1295.50 307.95,1298.90 311.82,1298.80 309.80,1302.10 311.82,1305.40 307.95,1305.30 306.10,1308.70 304.25,1305.30 300.38,1305.40 302.40,1302.10 300.38,1298.80 304.25,1298.90" fill="#ff2010" stroke="#a8150c" stroke-width="0.8"/>
<polygon points="315.60,1293.90 317.45,1297.30 321.32,1297.20 319.30,1300.50 321.32,1303.80 317.45,1303.70 315.60,1307.10 313.75,1303.70 309.88,1303.80 311.90,1300.50 309.88,1297.20 313.75,1297.30" fill="#ff2010" stroke="#a8150c" stroke-width="0.8"/>
<polygon points="326.10,1298.10 327.95,1301.50 331.82,1301.40 329.80,1304.70 331.82,1308.00 327.95,1307.90 326.10,1311.30 324.25,1307.90 320.38,1308.00 322.40,1304.70 320.38,1301.40 324.25,1301.50" fill="#ff2010" stroke="#a8150c" stroke-width="0.8"/>
<polygon points="338.80,1298.60 340.65,1302.00 344.52,1301.90 342.50,1305.20 344.52,1308.50 340.65,1308.40 338.80,1311.80 336.95,1308.40 333.08,1308.50 335.10,1305.20 333.08,1301.90 336.95,1302.00" fill="#ff2010" stroke="#a8150c" stroke-width="0.8"/>
<polygon points="293.50,1302.80 295.35,1306.20 299.22,1306.10 297.20,1309.40 299.22,1312.70 295.35,1312.60 293.50,1316.00 291.65,1312.60 287.78,1312.70 289.80,1309.40 287.78,1306.10 291.65,1306.20" fill="#ff2010" stroke="#a8150c" stroke-width="0.8"/>
<polygon points="300.90,1301.80 302.75,1305.20 306.62,1305.10 304.60,1308.40 306.62,1311.70 302.75,1311.60 300.90,1315.00 299.05,1311.60 295.18,1311.70 297.20,1308.40 295.18,1305.10 299.05,1305.20" fill="#ff2010" stroke="#a8150c" stroke-width="0.8"/>
<path d="M276.80,1303.60L286.00,1303.60M281.40,1299.00L281.40,1308.20M278.15,1300.35L284.65,1306.85M278.15,1306.85L284.65,1300.35" stroke="#8c3513" stroke-width="1.5" fill="none"/>
<path d="M282.60,1314.70L291.80,1314.70M287.20,1310.10L287.20,1319.30M283.95,1311.45L290.45,1317.95M283.95,1317.95L290.45,1311.45" stroke="#8c3513" stroke-width="1.5" fill="none"/>
<path d="M298.40,1311.50L307.60,1311.50M303.00,1306.90L303.00,1316.10M299.75,1308.25L306.25,1314.75M299.75,1314.75L306.25,1308.25" stroke="#8c3513" stroke-width="1.5" fill="none"/>
<path d="M297.40,1322.00L306.60,1322.00M302.00,1317.40L302.00,1326.60M298.75,1318.75L305.25,1325.25M298.75,1325.25L305.25,1318.75" stroke="#8c3513" stroke-width="1.5" fill="none"/>
<path d="M291.40,1316.00L300.60,1316.00M296.00,1311.40L296.00,1320.60M292.75,1312.75L299.25,1319.25M292.75,1319.25L299.25,1312.75" stroke="#8c3513" stroke-width="1.5" fill="none"/>
<path d="M310.80,1316.70L318.40,1324.30M310.80,1324.30L318.40,1316.70" stroke="#b4471b" stroke-width="1.5" fill="none"/>
<path d="M321.30,1316.70L328.90,1324.30M321.30,1324.30L328.90,1316.70" stroke="#b4471b" stroke-width="1.5" fill="none"/>
<path d="M304.20,1314.20L311.80,1321.80M304.20,1321.80L311.80,1314.20" stroke="#b4471b" stroke-width="1.5" fill="none"/>
<polygon points="275.00,1308.50 276.65,1312.73 281.18,1312.99 277.66,1315.87 278.82,1320.26 275.00,1317.80 271.18,1320.26 272.34,1315.87 268.82,1312.99 273.35,1312.73" fill="#f29a33" stroke="#c46b1b" stroke-width="0.8"/>
<polygon points="283.00,1302.50 284.65,1306.73 289.18,1306.99 285.66,1309.87 286.82,1314.26 283.00,1311.80 279.18,1314.26 280.34,1309.87 276.82,1306.99 281.35,1306.73" fill="#f29a33" stroke="#c46b1b" stroke-width="0.8"/>
<polygon points="291.00,1305.50 292.65,1309.73 297.18,1309.99 293.66,1312.87 294.82,1317.26 291.00,1314.80 287.18,1317.26 288.34,1312.87 284.82,1309.99 289.35,1309.73" fill="#f29a33" stroke="#c46b1b" stroke-width="0.8"/>
<polygon points="300.00,1319.50 301.65,1323.73 306.18,1323.99 302.66,1326.87 303.82,1331.26 300.00,1328.80 296.18,1331.26 297.34,1326.87 293.82,1323.99 298.35,1323.73" fill="#f29a33" stroke="#c46b1b" stroke-width="0.8"/>
<polygon points="270.00,1313.50 271.65,1317.73 276.18,1317.99 272.66,1320.87 273.82,1325.26 270.00,1322.80 266.18,1325.26 267.34,1320.87 263.82,1317.99 268.35,1317.73" fill="#f29a33" stroke="#c46b1b" stroke-width="0.8"/>
<polygon points="275.50,1320.50 284.50,1320.50 284.50,1329.50 275.50,1329.50" fill="#f29a33" stroke="#c46b1b" stroke-width="0.8"/>
<polygon points="291.50,1321.50 300.50,1321.50 300.50,1330.50 291.50,1330.50" fill="#f29a33" stroke="#c46b1b" stroke-width="0.8"/>
<polygon points="307.50,1320.50 316.50,1320.50 316.50,1329.50 307.50,1329.50" fill="#f29a33" stroke="#c46b1b" stroke-width="0.8"/>
<path d="M293.40,1305.00L302.60,1305.00M298.00,1300.40L298.00,1309.60M294.75,1301.75L301.25,1308.25M294.75,1308.25L301.25,1301.75" stroke="#8c3513" stroke-width="1.5" fill="none"/>
<path d="M300.40,1318.00L309.60,1318.00M305.00,1313.40L305.00,1322.60M301.75,1314.75L308.25,1321.25M301.75,1321.25L308.25,1314.75" stroke="#8c3513" stroke-width="1.5" fill="none"/>
<path d="M295.00,1316.00L305.00,1316.00M300.00,1311.00L300.00,1321.00" stroke="#b4471b" stroke-width="1.6" fill="none"/>
<polygon points="288.00,1295.50 289.65,1299.73 294.18,1299.99 290.66,1302.87 291.82,1307.26 288.00,1304.80 284.18,1307.26 285.34,1302.87 281.82,1299.99 286.35,1299.73" fill="#f29a33" stroke="#c46b1b" stroke-width="0.8"/>
<polygon points="298.00,1293.40 299.85,1296.80 303.72,1296.70 301.70,1300.00 303.72,1303.30 299.85,1303.20 298.00,1306.60 296.15,1303.20 292.28,1303.30 294.30,1300.00 292.28,1296.70 296.15,1296.80" fill="#ff2010" stroke="#a8150c" stroke-width="0.8"/>
<path d="M186.5,1302.5L195.1,1311.1M186.5,1311.1L195.1,1302.5" stroke="#454545" stroke-width="2.4"/>
<text x="193.8" y="1302.3" font-size="18" fill="#383838" font-weight="normal" font-style="italic" text-anchor="start" >Ilt.</text>
<path d="M194.7,1327.3L203.3,1335.9M194.7,1335.9L203.3,1327.3" stroke="#454545" stroke-width="2.4"/>
<text x="163.0" y="1346.0" font-size="18" fill="#383838" font-weight="normal" font-style="italic" text-anchor="start" >Mnt.</text>
<path d="M308.2,1327.2L316.8,1335.8M308.2,1335.8L316.8,1327.2" stroke="#454545" stroke-width="2.4"/>
<text x="321.0" y="1346.0" font-size="18" fill="#383838" font-weight="normal" font-style="italic" text-anchor="start" >Kln.</text>
<path d="M150.0,1166.5L158.6,1175.1M150.0,1175.1L158.6,1166.5" stroke="#454545" stroke-width="2.4"/>
<path d="M151.5,1177.0L160.1,1185.6M151.5,1185.6L160.1,1177.0" stroke="#454545" stroke-width="2.4"/>
<text x="164.8" y="1164.8" font-size="18" fill="#383838" font-weight="normal" font-style="italic" text-anchor="start" >Nnt.</text>
<text x="170.0" y="1187.3" font-size="18" fill="#383838" font-weight="normal" font-style="italic" text-anchor="start" >Sap.</text>
<line x1="136.30" y1="1227.40" x2="170.00" y2="1227.40" stroke="#111" stroke-width="1.3" />
<line x1="153.60" y1="1221.00" x2="153.60" y2="1234.60" stroke="#111" stroke-width="1.3" />
<rect x="148.4" y="1222.6" width="10.4" height="10.4" fill="#d8c4f4" stroke="#8a7aa8" stroke-width="0.9"/>
</svg></body></html>
